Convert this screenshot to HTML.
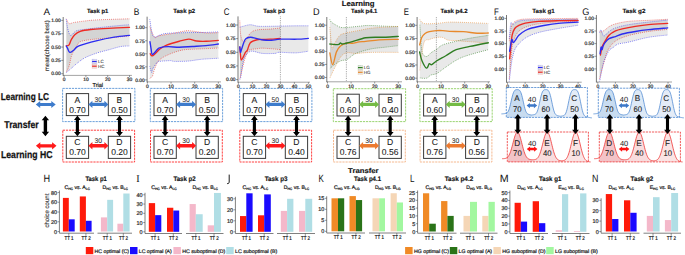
<!DOCTYPE html>
<html><head><meta charset="utf-8"><title>Figure</title>
<style>
html,body{margin:0;padding:0;background:#fff;}
body{width:685px;height:255px;overflow:hidden;}
svg{display:block;font-family:"Liberation Sans", sans-serif;text-rendering:geometricPrecision;}
</style></head>
<body>
<svg width="685" height="255" viewBox="0 0 685 255">
<rect width="685" height="255" fill="#fff"/>
<path d="M66.28,18.80 C66.75,19.60 67.88,22.98 69.11,23.60 C70.35,24.22 70.97,22.98 73.69,22.53 C76.42,22.09 81.54,21.38 85.46,20.93 C89.39,20.49 89.90,20.22 97.24,19.87 C104.58,19.51 124.12,18.98 129.50,18.80 L129.50,35.86 C125.98,36.21 114.82,37.37 108.35,37.99 C101.89,38.61 95.38,38.97 90.70,39.59 C86.01,40.21 82.56,40.65 80.23,41.72 C77.91,42.79 77.83,44.47 76.74,45.98 C75.65,47.49 74.60,49.00 73.69,50.78 C72.78,52.56 72.06,54.11 71.29,56.64 C70.53,59.18 69.95,63.40 69.11,65.97 C68.28,68.55 66.75,71.08 66.28,72.10 Z" fill="#000" fill-opacity="0.085"/>
<path d="M66.28,19.33 C66.50,20.76 67.01,25.29 67.59,27.86 C68.17,30.44 69.04,33.64 69.77,34.79 C70.49,35.95 71.00,35.37 71.95,34.79 C72.89,34.21 74.06,32.13 75.44,31.33 C76.82,30.53 76.60,30.57 80.23,29.99 C83.87,29.42 91.57,28.53 97.24,27.86 C102.90,27.20 108.86,26.53 114.24,26.00 C119.62,25.46 126.96,24.89 129.50,24.66 L129.50,45.98 C128.05,46.07 124.20,45.90 120.78,46.52 C117.36,47.14 112.93,48.65 109.01,49.72 C105.08,50.78 101.23,51.58 97.24,52.91 C93.24,54.25 88.44,55.93 85.03,57.71 C81.61,59.49 79.03,61.80 76.74,63.57 C74.45,65.35 73.04,66.86 71.29,68.37 C69.55,69.88 67.12,71.92 66.28,72.63 Z" fill="#000" fill-opacity="0.085"/>
<path d="M66.28,18.80 C66.75,19.60 67.88,22.98 69.11,23.60 C70.35,24.22 70.97,22.98 73.69,22.53 C76.42,22.09 81.54,21.38 85.46,20.93 C89.39,20.49 89.90,20.22 97.24,19.87 C104.58,19.51 124.12,18.98 129.50,18.80" fill="none" stroke="#ee2a24" stroke-width="0.7" stroke-dasharray="0.9 1.1" stroke-opacity="0.85"/>
<path d="M66.28,72.10 C66.75,71.08 68.28,68.55 69.11,65.97 C69.95,63.40 70.53,59.18 71.29,56.64 C72.06,54.11 72.78,52.56 73.69,50.78 C74.60,49.00 75.65,47.49 76.74,45.98 C77.83,44.47 77.91,42.79 80.23,41.72 C82.56,40.65 86.01,40.21 90.70,39.59 C95.38,38.97 101.89,38.61 108.35,37.99 C114.82,37.37 125.98,36.21 129.50,35.86" fill="none" stroke="#ee2a24" stroke-width="0.7" stroke-dasharray="0.9 1.1" stroke-opacity="0.85"/>
<path d="M66.28,19.33 C66.50,20.76 67.01,25.29 67.59,27.86 C68.17,30.44 69.04,33.64 69.77,34.79 C70.49,35.95 71.00,35.37 71.95,34.79 C72.89,34.21 74.06,32.13 75.44,31.33 C76.82,30.53 76.60,30.57 80.23,29.99 C83.87,29.42 91.57,28.53 97.24,27.86 C102.90,27.20 108.86,26.53 114.24,26.00 C119.62,25.46 126.96,24.89 129.50,24.66" fill="none" stroke="#2c2cf0" stroke-width="0.7" stroke-dasharray="0.9 1.1" stroke-opacity="0.85"/>
<path d="M66.28,72.63 C67.12,71.92 69.55,69.88 71.29,68.37 C73.04,66.86 74.45,65.35 76.74,63.57 C79.03,61.80 81.61,59.49 85.03,57.71 C88.44,55.93 93.24,54.25 97.24,52.91 C101.23,51.58 105.08,50.78 109.01,49.72 C112.93,48.65 117.36,47.14 120.78,46.52 C124.20,45.90 128.05,46.07 129.50,45.98" fill="none" stroke="#2c2cf0" stroke-width="0.7" stroke-dasharray="0.9 1.1" stroke-opacity="0.85"/>
<path d="M66.28,45.98 C66.75,45.81 68.28,45.98 69.11,44.92 C69.95,43.85 70.35,41.28 71.29,39.59 C72.24,37.90 73.29,36.17 74.78,34.79 C76.27,33.41 77.58,32.21 80.23,31.33 C82.88,30.44 86.01,29.95 90.70,29.46 C95.38,28.97 101.89,28.75 108.35,28.40 C114.82,28.04 125.98,27.51 129.50,27.33" fill="none" stroke="#ee2a24" stroke-width="1.35" stroke-linejoin="round" stroke-linecap="round"/>
<path d="M66.28,45.98 C66.50,46.38 67.01,47.32 67.59,48.38 C68.17,49.45 68.75,52.07 69.77,52.38 C70.79,52.69 72.17,51.31 73.69,50.25 C75.22,49.18 75.00,47.58 78.92,45.98 C82.85,44.39 91.35,42.12 97.24,40.65 C103.12,39.19 108.86,38.08 114.24,37.19 C119.62,36.30 126.96,35.63 129.50,35.32" fill="none" stroke="#2c2cf0" stroke-width="1.35" stroke-linejoin="round" stroke-linecap="round"/>
<line x1="62.90" y1="75.40" x2="131.90" y2="75.40" stroke="#9a9a9a" stroke-width="0.9"/>
<line x1="63.20" y1="17.00" x2="63.20" y2="75.80" stroke="#555" stroke-width="0.8"/>
<line x1="61.20" y1="73.70" x2="63.20" y2="73.70" stroke="#444" stroke-width="0.55"/>
<text x="60.80" y="75.45" font-size="4.9" text-anchor="end" fill="#333" stroke="#333" stroke-width="0.22">0.00</text>
<line x1="61.20" y1="60.38" x2="63.20" y2="60.38" stroke="#444" stroke-width="0.55"/>
<text x="60.80" y="62.12" font-size="4.9" text-anchor="end" fill="#333" stroke="#333" stroke-width="0.22">0.25</text>
<line x1="61.20" y1="47.05" x2="63.20" y2="47.05" stroke="#444" stroke-width="0.55"/>
<text x="60.80" y="48.80" font-size="4.9" text-anchor="end" fill="#333" stroke="#333" stroke-width="0.22">0.50</text>
<line x1="61.20" y1="33.73" x2="63.20" y2="33.73" stroke="#444" stroke-width="0.55"/>
<text x="60.80" y="35.48" font-size="4.9" text-anchor="end" fill="#333" stroke="#333" stroke-width="0.22">0.75</text>
<line x1="61.20" y1="20.40" x2="63.20" y2="20.40" stroke="#444" stroke-width="0.55"/>
<text x="60.80" y="22.15" font-size="4.9" text-anchor="end" fill="#333" stroke="#333" stroke-width="0.22">1.00</text>
<line x1="64.10" y1="75.40" x2="64.10" y2="77.10" stroke="#444" stroke-width="0.55"/>
<text x="64.10" y="81.40" font-size="4.9" text-anchor="middle" fill="#333" stroke="#333" stroke-width="0.22">0</text>
<line x1="85.90" y1="75.40" x2="85.90" y2="77.10" stroke="#444" stroke-width="0.55"/>
<text x="85.90" y="81.40" font-size="4.9" text-anchor="middle" fill="#333" stroke="#333" stroke-width="0.22">10</text>
<line x1="107.70" y1="75.40" x2="107.70" y2="77.10" stroke="#444" stroke-width="0.55"/>
<text x="107.70" y="81.40" font-size="4.9" text-anchor="middle" fill="#333" stroke="#333" stroke-width="0.22">20</text>
<line x1="129.50" y1="75.40" x2="129.50" y2="77.10" stroke="#444" stroke-width="0.55"/>
<text x="129.50" y="81.40" font-size="4.9" text-anchor="middle" fill="#333" stroke="#333" stroke-width="0.22">30</text>
<rect x="92.10" y="59.40" width="4.6" height="4.2" fill="#e6e6e6" stroke="#2c2cf0" stroke-width="0.4" stroke-dasharray="0.6 0.6" stroke-opacity="0.8"/>
<line x1="92.10" y1="61.50" x2="96.70" y2="61.50" stroke="#2c2cf0" stroke-width="1.2"/>
<text x="97.90" y="63.20" font-size="4.5" text-anchor="start" fill="#333" stroke="#333" stroke-width="0.06">LC</text>
<rect x="92.10" y="64.10" width="4.6" height="4.2" fill="#e6e6e6" stroke="#ee2a24" stroke-width="0.4" stroke-dasharray="0.6 0.6" stroke-opacity="0.8"/>
<line x1="92.10" y1="66.20" x2="96.70" y2="66.20" stroke="#ee2a24" stroke-width="1.2"/>
<text x="97.90" y="67.90" font-size="4.5" text-anchor="start" fill="#333" stroke="#333" stroke-width="0.06">HC</text>
<text x="92.50" y="87.10" font-size="5.8" text-anchor="start" fill="#222" stroke="#222" stroke-width="0.22" textLength="10.6" lengthAdjust="spacingAndGlyphs">Trial</text>
<text x="49.00" y="45.80" font-size="6.2" text-anchor="middle" fill="#333" stroke="#333" stroke-width="0.12" textLength="50.8" lengthAdjust="spacingAndGlyphs" transform="rotate(-90 48.9 45.8)">mean(choose best)</text>
<path d="M149.77,26.66 C150.55,28.40 152.92,35.57 154.50,37.10 C156.07,38.62 156.19,36.40 159.22,35.79 C162.26,35.18 168.25,34.27 172.71,33.44 C177.16,32.62 182.68,31.22 185.95,30.83 C189.22,30.44 188.98,30.75 192.34,31.09 C195.69,31.44 201.72,32.66 206.05,32.92 C210.39,33.18 216.30,32.70 218.35,32.66 L218.35,48.06 C214.61,48.23 201.95,48.75 195.88,49.10 C189.81,49.45 186.58,49.19 181.93,50.15 C177.28,51.10 171.84,53.10 167.98,54.84 C164.11,56.58 161.00,58.15 158.75,60.59 C156.51,63.02 155.56,66.85 154.50,69.46 C153.43,72.07 153.15,74.77 152.37,76.25 C151.58,77.73 150.20,77.99 149.77,78.33 Z" fill="#000" fill-opacity="0.085"/>
<path d="M149.77,19.35 C150.16,21.70 151.30,30.48 152.13,33.44 C152.96,36.40 153.51,36.79 154.73,37.10 C155.95,37.40 157.57,35.88 159.46,35.27 C161.35,34.66 161.67,33.88 166.08,33.44 C170.50,33.01 179.29,32.83 185.95,32.66 C192.61,32.48 200.65,32.53 206.05,32.40 C211.45,32.27 216.30,31.96 218.35,31.88 L218.35,58.24 C215.59,58.41 206.92,58.80 201.80,59.28 C196.67,59.76 192.34,60.76 187.61,61.11 C182.88,61.46 176.13,61.46 173.42,61.37 C170.70,61.28 173.61,60.59 171.29,60.59 C168.96,60.59 161.79,61.11 159.46,61.37 C157.14,61.63 158.44,60.98 157.33,62.15 C156.23,63.33 153.79,66.68 152.84,68.42 C151.89,70.16 152.17,72.94 151.66,72.59 C151.14,72.24 150.08,67.37 149.77,66.33 Z" fill="#000" fill-opacity="0.085"/>
<path d="M149.77,26.66 C150.55,28.40 152.92,35.57 154.50,37.10 C156.07,38.62 156.19,36.40 159.22,35.79 C162.26,35.18 168.25,34.27 172.71,33.44 C177.16,32.62 182.68,31.22 185.95,30.83 C189.22,30.44 188.98,30.75 192.34,31.09 C195.69,31.44 201.72,32.66 206.05,32.92 C210.39,33.18 216.30,32.70 218.35,32.66" fill="none" stroke="#ee2a24" stroke-width="0.7" stroke-dasharray="0.9 1.1" stroke-opacity="0.85"/>
<path d="M149.77,78.33 C150.20,77.99 151.58,77.73 152.37,76.25 C153.15,74.77 153.43,72.07 154.50,69.46 C155.56,66.85 156.51,63.02 158.75,60.59 C161.00,58.15 164.11,56.58 167.98,54.84 C171.84,53.10 177.28,51.10 181.93,50.15 C186.58,49.19 189.81,49.45 195.88,49.10 C201.95,48.75 214.61,48.23 218.35,48.06" fill="none" stroke="#ee2a24" stroke-width="0.7" stroke-dasharray="0.9 1.1" stroke-opacity="0.85"/>
<path d="M149.77,19.35 C150.16,21.70 151.30,30.48 152.13,33.44 C152.96,36.40 153.51,36.79 154.73,37.10 C155.95,37.40 157.57,35.88 159.46,35.27 C161.35,34.66 161.67,33.88 166.08,33.44 C170.50,33.01 179.29,32.83 185.95,32.66 C192.61,32.48 200.65,32.53 206.05,32.40 C211.45,32.27 216.30,31.96 218.35,31.88" fill="none" stroke="#2c2cf0" stroke-width="0.7" stroke-dasharray="0.9 1.1" stroke-opacity="0.85"/>
<path d="M149.77,66.33 C150.08,67.37 151.14,72.24 151.66,72.59 C152.17,72.94 151.89,70.16 152.84,68.42 C153.79,66.68 156.23,63.33 157.33,62.15 C158.44,60.98 157.14,61.63 159.46,61.37 C161.79,61.11 168.96,60.59 171.29,60.59 C173.61,60.59 170.70,61.28 173.42,61.37 C176.13,61.46 182.88,61.46 187.61,61.11 C192.34,60.76 196.67,59.76 201.80,59.28 C206.92,58.80 215.59,58.41 218.35,58.24" fill="none" stroke="#2c2cf0" stroke-width="0.7" stroke-dasharray="0.9 1.1" stroke-opacity="0.85"/>
<path d="M150.24,53.80 C150.59,54.15 151.18,56.28 152.37,55.89 C153.55,55.50 156.15,52.54 157.33,51.45 C158.52,50.36 158.00,50.36 159.46,49.36 C160.92,48.36 162.77,46.80 166.08,45.45 C169.39,44.10 175.54,42.32 179.33,41.27 C183.11,40.23 185.91,39.23 188.79,39.18 C191.66,39.14 193.71,40.66 196.59,41.01 C199.47,41.36 202.43,41.38 206.05,41.27 C209.68,41.17 216.30,40.53 218.35,40.38" fill="none" stroke="#ee2a24" stroke-width="1.35" stroke-linejoin="round" stroke-linecap="round"/>
<path d="M150.00,41.79 C150.20,43.06 150.79,47.28 151.18,49.36 C151.58,51.45 151.34,54.28 152.37,54.32 C153.39,54.37 156.15,50.71 157.33,49.62 C158.52,48.54 157.65,48.28 159.46,47.80 C161.27,47.31 164.90,46.79 168.21,46.70 C171.52,46.61 175.31,47.31 179.33,47.28 C183.35,47.24 187.88,46.77 192.34,46.49 C196.79,46.21 201.72,46.02 206.05,45.60 C210.39,45.19 216.30,44.26 218.35,43.99" fill="none" stroke="#2c2cf0" stroke-width="1.35" stroke-linejoin="round" stroke-linecap="round"/>
<line x1="146.80" y1="81.90" x2="221.00" y2="81.90" stroke="#9a9a9a" stroke-width="0.9"/>
<line x1="147.10" y1="16.70" x2="147.10" y2="82.30" stroke="#555" stroke-width="0.8"/>
<line x1="145.10" y1="79.90" x2="147.10" y2="79.90" stroke="#444" stroke-width="0.55"/>
<text x="144.70" y="81.65" font-size="4.9" text-anchor="end" fill="#333" stroke="#333" stroke-width="0.22">0.00</text>
<line x1="145.10" y1="66.85" x2="147.10" y2="66.85" stroke="#444" stroke-width="0.55"/>
<text x="144.70" y="68.60" font-size="4.9" text-anchor="end" fill="#333" stroke="#333" stroke-width="0.22">0.25</text>
<line x1="145.10" y1="53.80" x2="147.10" y2="53.80" stroke="#444" stroke-width="0.55"/>
<text x="144.70" y="55.55" font-size="4.9" text-anchor="end" fill="#333" stroke="#333" stroke-width="0.22">0.50</text>
<line x1="145.10" y1="40.75" x2="147.10" y2="40.75" stroke="#444" stroke-width="0.55"/>
<text x="144.70" y="42.50" font-size="4.9" text-anchor="end" fill="#333" stroke="#333" stroke-width="0.22">0.75</text>
<line x1="145.10" y1="27.70" x2="147.10" y2="27.70" stroke="#444" stroke-width="0.55"/>
<text x="144.70" y="29.45" font-size="4.9" text-anchor="end" fill="#333" stroke="#333" stroke-width="0.22">1.00</text>
<line x1="147.40" y1="81.90" x2="147.40" y2="83.60" stroke="#444" stroke-width="0.55"/>
<text x="147.40" y="87.90" font-size="4.9" text-anchor="middle" fill="#333" stroke="#333" stroke-width="0.22">0</text>
<line x1="171.05" y1="81.90" x2="171.05" y2="83.60" stroke="#444" stroke-width="0.55"/>
<text x="171.05" y="87.90" font-size="4.9" text-anchor="middle" fill="#333" stroke="#333" stroke-width="0.22">10</text>
<line x1="194.70" y1="81.90" x2="194.70" y2="83.60" stroke="#444" stroke-width="0.55"/>
<text x="194.70" y="87.90" font-size="4.9" text-anchor="middle" fill="#333" stroke="#333" stroke-width="0.22">20</text>
<line x1="218.35" y1="81.90" x2="218.35" y2="83.60" stroke="#444" stroke-width="0.55"/>
<text x="218.35" y="87.90" font-size="4.9" text-anchor="middle" fill="#333" stroke="#333" stroke-width="0.22">30</text>
<path d="M239.80,20.63 C239.99,23.18 240.14,32.28 240.92,35.92 C241.70,39.56 242.93,42.93 244.49,42.47 C246.05,42.02 248.21,35.28 250.30,33.19 C252.39,31.10 253.68,30.60 257.02,29.91 C260.36,29.23 266.42,29.41 270.32,29.09 C274.22,28.78 278.72,28.18 280.40,28.00 L280.40,49.57 C277.60,49.34 267.50,48.34 263.60,48.20 C259.70,48.07 259.42,48.43 257.02,48.75 C254.62,49.07 250.98,49.07 249.18,50.12 C247.38,51.16 247.03,53.30 246.24,55.03 C245.45,56.76 245.10,58.12 244.42,60.49 C243.74,62.86 242.83,66.59 242.18,69.23 C241.53,71.86 240.90,74.78 240.50,76.32 C240.10,77.87 239.92,78.14 239.80,78.51 Z" fill="#000" fill-opacity="0.085"/>
<path d="M239.80,27.18 C240.45,27.00 241.97,26.50 243.72,26.09 C245.47,25.68 248.08,24.73 250.30,24.73 C252.52,24.73 254.80,25.82 257.02,26.09 C259.24,26.36 259.70,26.36 263.60,26.36 C267.50,26.36 274.82,26.18 280.40,26.09 C285.98,26.00 292.39,25.86 297.06,25.82 C301.73,25.77 306.51,25.82 308.40,25.82 L308.40,51.21 C306.30,51.48 300.63,52.66 295.80,52.85 C290.97,53.03 282.92,52.21 279.42,52.30 C275.92,52.39 277.67,53.21 274.80,53.39 C271.93,53.57 266.17,53.76 262.20,53.39 C258.23,53.03 253.89,50.66 251.00,51.21 C248.11,51.75 246.19,54.67 244.84,56.67 C243.49,58.67 243.44,60.67 242.88,63.22 C242.32,65.77 241.88,69.41 241.48,71.96 C241.08,74.50 240.78,77.23 240.50,78.51 C240.22,79.78 239.92,79.42 239.80,79.60 Z" fill="#000" fill-opacity="0.085"/>
<path d="M239.80,20.63 C239.99,23.18 240.14,32.28 240.92,35.92 C241.70,39.56 242.93,42.93 244.49,42.47 C246.05,42.02 248.21,35.28 250.30,33.19 C252.39,31.10 253.68,30.60 257.02,29.91 C260.36,29.23 266.42,29.41 270.32,29.09 C274.22,28.78 278.72,28.18 280.40,28.00" fill="none" stroke="#ee2a24" stroke-width="0.7" stroke-dasharray="0.9 1.1" stroke-opacity="0.85"/>
<path d="M239.80,78.51 C239.92,78.14 240.10,77.87 240.50,76.32 C240.90,74.78 241.53,71.86 242.18,69.23 C242.83,66.59 243.74,62.86 244.42,60.49 C245.10,58.12 245.45,56.76 246.24,55.03 C247.03,53.30 247.38,51.16 249.18,50.12 C250.98,49.07 254.62,49.07 257.02,48.75 C259.42,48.43 259.70,48.07 263.60,48.20 C267.50,48.34 277.60,49.34 280.40,49.57" fill="none" stroke="#ee2a24" stroke-width="0.7" stroke-dasharray="0.9 1.1" stroke-opacity="0.85"/>
<path d="M239.80,27.18 C240.45,27.00 241.97,26.50 243.72,26.09 C245.47,25.68 248.08,24.73 250.30,24.73 C252.52,24.73 254.80,25.82 257.02,26.09 C259.24,26.36 259.70,26.36 263.60,26.36 C267.50,26.36 274.82,26.18 280.40,26.09 C285.98,26.00 292.39,25.86 297.06,25.82 C301.73,25.77 306.51,25.82 308.40,25.82" fill="none" stroke="#2c2cf0" stroke-width="0.7" stroke-dasharray="0.9 1.1" stroke-opacity="0.85"/>
<path d="M239.80,79.60 C239.92,79.42 240.22,79.78 240.50,78.51 C240.78,77.23 241.08,74.50 241.48,71.96 C241.88,69.41 242.32,65.77 242.88,63.22 C243.44,60.67 243.49,58.67 244.84,56.67 C246.19,54.67 248.11,51.75 251.00,51.21 C253.89,50.66 258.23,53.03 262.20,53.39 C266.17,53.76 271.93,53.57 274.80,53.39 C277.67,53.21 275.92,52.39 279.42,52.30 C282.92,52.21 290.97,53.03 295.80,52.85 C300.63,52.66 306.30,51.48 308.40,51.21" fill="none" stroke="#2c2cf0" stroke-width="0.7" stroke-dasharray="0.9 1.1" stroke-opacity="0.85"/>
<line x1="280.40" y1="16.40" x2="280.40" y2="82.20" stroke="#333" stroke-width="0.5" stroke-dasharray="0.8 1"/>
<path d="M239.80,46.84 C239.92,48.20 240.27,52.85 240.50,55.03 C240.73,57.21 240.71,59.67 241.20,59.94 C241.69,60.22 242.74,57.94 243.44,56.67 C244.14,55.39 244.75,53.39 245.40,52.30 C246.05,51.21 246.54,51.71 247.36,50.12 C248.18,48.52 248.69,44.47 250.30,42.74 C251.91,41.02 254.80,40.29 257.02,39.74 C259.24,39.20 261.38,39.56 263.60,39.47 C265.82,39.38 267.52,39.38 270.32,39.20 C273.12,39.01 278.72,38.51 280.40,38.38" fill="none" stroke="#ee2a24" stroke-width="1.35" stroke-linejoin="round" stroke-linecap="round"/>
<path d="M239.80,46.84 C239.91,47.75 240.15,51.84 240.43,52.30 C240.71,52.75 240.93,51.16 241.48,49.57 C242.03,47.98 243.00,44.56 243.72,42.74 C244.44,40.92 244.72,39.56 245.82,38.65 C246.92,37.74 248.95,37.42 250.30,37.28 C251.65,37.15 251.72,37.38 253.94,37.83 C256.16,38.29 260.66,39.61 263.60,40.01 C266.54,40.42 268.78,40.42 271.58,40.29 C274.38,40.15 276.13,39.38 280.40,39.20 C284.67,39.01 292.53,39.33 297.20,39.20 C301.87,39.06 306.53,38.51 308.40,38.38" fill="none" stroke="#2c2cf0" stroke-width="1.35" stroke-linejoin="round" stroke-linecap="round"/>
<line x1="237.70" y1="82.20" x2="310.00" y2="82.20" stroke="#9a9a9a" stroke-width="0.9"/>
<line x1="238.00" y1="16.40" x2="238.00" y2="82.60" stroke="#555" stroke-width="0.8"/>
<line x1="236.00" y1="79.60" x2="238.00" y2="79.60" stroke="#444" stroke-width="0.55"/>
<text x="235.60" y="81.35" font-size="4.9" text-anchor="end" fill="#333" stroke="#333" stroke-width="0.22">0.00</text>
<line x1="236.00" y1="65.95" x2="238.00" y2="65.95" stroke="#444" stroke-width="0.55"/>
<text x="235.60" y="67.70" font-size="4.9" text-anchor="end" fill="#333" stroke="#333" stroke-width="0.22">0.25</text>
<line x1="236.00" y1="52.30" x2="238.00" y2="52.30" stroke="#444" stroke-width="0.55"/>
<text x="235.60" y="54.05" font-size="4.9" text-anchor="end" fill="#333" stroke="#333" stroke-width="0.22">0.50</text>
<line x1="236.00" y1="38.65" x2="238.00" y2="38.65" stroke="#444" stroke-width="0.55"/>
<text x="235.60" y="40.40" font-size="4.9" text-anchor="end" fill="#333" stroke="#333" stroke-width="0.22">0.75</text>
<line x1="236.00" y1="25.00" x2="238.00" y2="25.00" stroke="#444" stroke-width="0.55"/>
<text x="235.60" y="26.75" font-size="4.9" text-anchor="end" fill="#333" stroke="#333" stroke-width="0.22">1.00</text>
<line x1="238.40" y1="82.20" x2="238.40" y2="83.90" stroke="#444" stroke-width="0.55"/>
<text x="238.40" y="88.20" font-size="4.9" text-anchor="middle" fill="#333" stroke="#333" stroke-width="0.22">0</text>
<line x1="252.40" y1="82.20" x2="252.40" y2="83.90" stroke="#444" stroke-width="0.55"/>
<text x="252.40" y="88.20" font-size="4.9" text-anchor="middle" fill="#333" stroke="#333" stroke-width="0.22">10</text>
<line x1="266.40" y1="82.20" x2="266.40" y2="83.90" stroke="#444" stroke-width="0.55"/>
<text x="266.40" y="88.20" font-size="4.9" text-anchor="middle" fill="#333" stroke="#333" stroke-width="0.22">20</text>
<line x1="280.40" y1="82.20" x2="280.40" y2="83.90" stroke="#444" stroke-width="0.55"/>
<text x="280.40" y="88.20" font-size="4.9" text-anchor="middle" fill="#333" stroke="#333" stroke-width="0.22">30</text>
<line x1="294.40" y1="82.20" x2="294.40" y2="83.90" stroke="#444" stroke-width="0.55"/>
<text x="294.40" y="88.20" font-size="4.9" text-anchor="middle" fill="#333" stroke="#333" stroke-width="0.22">40</text>
<line x1="308.40" y1="82.20" x2="308.40" y2="83.90" stroke="#444" stroke-width="0.55"/>
<text x="308.40" y="88.20" font-size="4.9" text-anchor="middle" fill="#333" stroke="#333" stroke-width="0.22">50</text>
<path d="M329.86,19.45 C330.10,19.88 330.37,21.19 331.28,22.06 C332.18,22.93 333.75,23.81 335.29,24.68 C336.82,25.55 338.71,26.81 340.48,27.29 C342.25,27.77 342.80,27.73 345.91,27.55 C349.02,27.38 355.35,26.59 359.12,26.25 C362.90,25.90 364.12,25.46 368.56,25.46 C373.01,25.46 380.84,26.07 385.79,26.25 C390.75,26.42 396.22,26.46 398.30,26.51 L398.30,45.60 C396.18,45.86 390.16,46.60 385.56,47.17 C380.95,47.73 375.64,47.95 370.69,49.00 C365.73,50.04 359.75,51.70 355.82,53.44 C351.89,55.19 349.57,58.24 347.09,59.46 C344.61,60.68 343.08,59.89 340.95,60.76 C338.83,61.64 336.19,63.38 334.34,64.69 C332.50,65.99 330.61,67.96 329.86,68.61 Z" fill="#000" fill-opacity="0.085"/>
<path d="M329.86,27.29 C330.21,30.78 331.32,45.25 331.98,48.21 C332.65,51.18 332.65,47.12 333.87,45.07 C335.09,43.03 337.29,37.93 339.30,35.92 C341.31,33.92 342.60,33.96 345.91,33.05 C349.21,32.13 354.72,31.26 359.12,30.43 C363.53,29.60 365.81,28.74 372.34,28.08 C378.87,27.41 393.97,26.73 398.30,26.46 L398.30,52.40 C393.70,52.40 377.77,52.22 370.69,52.40 C363.61,52.57 359.75,53.40 355.82,53.44 C351.89,53.49 349.57,52.13 347.09,52.66 C344.61,53.18 343.08,53.92 340.95,56.58 C338.83,59.24 336.19,65.04 334.34,68.61 C332.50,72.18 330.61,76.45 329.86,78.02 Z" fill="#000" fill-opacity="0.085"/>
<path d="M329.86,19.45 C330.10,19.88 330.37,21.19 331.28,22.06 C332.18,22.93 333.75,23.81 335.29,24.68 C336.82,25.55 338.71,26.81 340.48,27.29 C342.25,27.77 342.80,27.73 345.91,27.55 C349.02,27.38 355.35,26.59 359.12,26.25 C362.90,25.90 364.12,25.46 368.56,25.46 C373.01,25.46 380.84,26.07 385.79,26.25 C390.75,26.42 396.22,26.46 398.30,26.51" fill="none" stroke="#2e7d22" stroke-width="0.7" stroke-dasharray="0.9 1.1" stroke-opacity="0.85"/>
<path d="M329.86,68.61 C330.61,67.96 332.50,65.99 334.34,64.69 C336.19,63.38 338.83,61.64 340.95,60.76 C343.08,59.89 344.61,60.68 347.09,59.46 C349.57,58.24 351.89,55.19 355.82,53.44 C359.75,51.70 365.73,50.04 370.69,49.00 C375.64,47.95 380.95,47.73 385.56,47.17 C390.16,46.60 396.18,45.86 398.30,45.60" fill="none" stroke="#2e7d22" stroke-width="0.7" stroke-dasharray="0.9 1.1" stroke-opacity="0.85"/>
<path d="M329.86,27.29 C330.21,30.78 331.32,45.25 331.98,48.21 C332.65,51.18 332.65,47.12 333.87,45.07 C335.09,43.03 337.29,37.93 339.30,35.92 C341.31,33.92 342.60,33.96 345.91,33.05 C349.21,32.13 354.72,31.26 359.12,30.43 C363.53,29.60 365.81,28.74 372.34,28.08 C378.87,27.41 393.97,26.73 398.30,26.46" fill="none" stroke="#e8892c" stroke-width="0.7" stroke-dasharray="0.9 1.1" stroke-opacity="0.85"/>
<path d="M329.86,78.02 C330.61,76.45 332.50,72.18 334.34,68.61 C336.19,65.04 338.83,59.24 340.95,56.58 C343.08,53.92 344.61,53.18 347.09,52.66 C349.57,52.13 351.89,53.49 355.82,53.44 C359.75,53.40 363.61,52.57 370.69,52.40 C377.77,52.22 393.70,52.40 398.30,52.40" fill="none" stroke="#e8892c" stroke-width="0.7" stroke-dasharray="0.9 1.1" stroke-opacity="0.85"/>
<line x1="346.38" y1="17.00" x2="346.38" y2="81.80" stroke="#333" stroke-width="0.5" stroke-dasharray="0.8 1"/>
<path d="M329.86,52.92 C330.33,54.88 331.59,64.86 332.69,64.69 C333.79,64.51 335.17,54.97 336.47,51.87 C337.77,48.78 338.91,47.56 340.48,46.12 C342.05,44.68 343.94,43.72 345.91,43.24 C347.87,42.76 350.08,43.46 352.28,43.24 C354.48,43.03 356.88,42.24 359.12,41.94 C361.37,41.63 362.39,41.76 365.73,41.41 C369.08,41.06 373.76,40.19 379.18,39.84 C384.61,39.50 395.11,39.41 398.30,39.32" fill="none" stroke="#e8892c" stroke-width="1.35" stroke-linejoin="round" stroke-linecap="round"/>
<path d="M329.86,44.03 C330.76,44.12 333.79,44.51 335.29,44.55 C336.78,44.59 337.96,44.55 338.83,44.29 C339.69,44.03 339.93,43.03 340.48,42.98 C341.03,42.94 341.23,43.98 342.13,44.03 C343.04,44.07 344.22,43.64 345.91,43.24 C347.60,42.85 348.98,42.59 352.28,41.67 C355.58,40.76 361.25,38.49 365.73,37.75 C370.22,37.01 375.84,37.32 379.18,37.23 C382.53,37.14 382.61,37.36 385.79,37.23 C388.98,37.10 396.22,36.58 398.30,36.44" fill="none" stroke="#2e7d22" stroke-width="1.35" stroke-linejoin="round" stroke-linecap="round"/>
<line x1="326.50" y1="81.80" x2="402.00" y2="81.80" stroke="#9a9a9a" stroke-width="0.9"/>
<line x1="326.80" y1="17.00" x2="326.80" y2="82.20" stroke="#555" stroke-width="0.8"/>
<line x1="324.80" y1="77.50" x2="326.80" y2="77.50" stroke="#444" stroke-width="0.55"/>
<text x="324.40" y="79.25" font-size="4.9" text-anchor="end" fill="#333" stroke="#333" stroke-width="0.22">0.00</text>
<line x1="324.80" y1="64.42" x2="326.80" y2="64.42" stroke="#444" stroke-width="0.55"/>
<text x="324.40" y="66.17" font-size="4.9" text-anchor="end" fill="#333" stroke="#333" stroke-width="0.22">0.25</text>
<line x1="324.80" y1="51.35" x2="326.80" y2="51.35" stroke="#444" stroke-width="0.55"/>
<text x="324.40" y="53.10" font-size="4.9" text-anchor="end" fill="#333" stroke="#333" stroke-width="0.22">0.50</text>
<line x1="324.80" y1="38.28" x2="326.80" y2="38.28" stroke="#444" stroke-width="0.55"/>
<text x="324.40" y="40.03" font-size="4.9" text-anchor="end" fill="#333" stroke="#333" stroke-width="0.22">0.75</text>
<line x1="324.80" y1="25.20" x2="326.80" y2="25.20" stroke="#444" stroke-width="0.55"/>
<text x="324.40" y="26.95" font-size="4.9" text-anchor="end" fill="#333" stroke="#333" stroke-width="0.22">1.00</text>
<line x1="327.50" y1="81.80" x2="327.50" y2="83.50" stroke="#444" stroke-width="0.55"/>
<text x="327.50" y="87.80" font-size="4.9" text-anchor="middle" fill="#333" stroke="#333" stroke-width="0.22">0</text>
<line x1="351.10" y1="81.80" x2="351.10" y2="83.50" stroke="#444" stroke-width="0.55"/>
<text x="351.10" y="87.80" font-size="4.9" text-anchor="middle" fill="#333" stroke="#333" stroke-width="0.22">10</text>
<line x1="374.70" y1="81.80" x2="374.70" y2="83.50" stroke="#444" stroke-width="0.55"/>
<text x="374.70" y="87.80" font-size="4.9" text-anchor="middle" fill="#333" stroke="#333" stroke-width="0.22">20</text>
<line x1="398.30" y1="81.80" x2="398.30" y2="83.50" stroke="#444" stroke-width="0.55"/>
<text x="398.30" y="87.80" font-size="4.9" text-anchor="middle" fill="#333" stroke="#333" stroke-width="0.22">30</text>
<rect x="358.00" y="65.50" width="4.6" height="4.2" fill="#e6e6e6" stroke="#2e7d22" stroke-width="0.4" stroke-dasharray="0.6 0.6" stroke-opacity="0.8"/>
<line x1="358.00" y1="67.60" x2="362.60" y2="67.60" stroke="#2e7d22" stroke-width="1.2"/>
<text x="363.80" y="69.30" font-size="4.5" text-anchor="start" fill="#333" stroke="#333" stroke-width="0.06">LG</text>
<rect x="358.00" y="70.20" width="4.6" height="4.2" fill="#e6e6e6" stroke="#e8892c" stroke-width="0.4" stroke-dasharray="0.6 0.6" stroke-opacity="0.8"/>
<line x1="358.00" y1="72.30" x2="362.60" y2="72.30" stroke="#e8892c" stroke-width="1.2"/>
<text x="363.80" y="74.00" font-size="4.5" text-anchor="start" fill="#333" stroke="#333" stroke-width="0.06">HG</text>
<path d="M419.86,19.48 C420.53,20.14 421.12,22.79 423.87,23.45 C426.63,24.11 432.09,23.67 436.38,23.45 C440.67,23.23 444.01,22.26 449.60,22.13 C455.18,21.99 463.44,22.43 469.89,22.66 C476.34,22.88 485.23,23.32 488.30,23.45 L488.30,43.02 C485.23,42.80 475.20,42.10 469.89,41.70 C464.58,41.30 460.10,40.91 456.44,40.64 C452.78,40.38 450.23,40.64 447.94,40.11 C445.66,39.58 444.68,37.91 442.75,37.47 C440.82,37.03 438.62,37.11 436.38,37.47 C434.14,37.82 431.38,38.66 429.30,39.58 C427.22,40.51 425.45,37.91 423.87,43.02 C422.30,48.14 420.53,65.72 419.86,70.27 Z" fill="#000" fill-opacity="0.085"/>
<path d="M419.86,24.77 C420.21,29.18 420.88,45.93 421.98,51.22 C423.09,56.51 424.97,56.25 426.47,56.51 C427.96,56.78 429.22,54.04 430.95,52.81 C432.68,51.57 434.89,50.43 436.85,49.11 C438.82,47.78 439.49,46.20 442.75,44.87 C446.02,43.55 451.92,42.27 456.44,41.17 C460.96,40.07 464.58,39.23 469.89,38.26 C475.20,37.29 485.23,35.84 488.30,35.35 L488.30,49.63 C484.68,50.65 471.94,53.95 466.59,55.72 C461.24,57.48 459.67,58.32 456.20,60.21 C452.74,62.11 449.05,64.89 445.82,67.09 C442.59,69.30 439.33,72.12 436.85,73.44 C434.37,74.76 432.68,74.23 430.95,75.03 C429.22,75.82 428.32,77.72 426.47,78.20 C424.62,78.68 420.96,77.98 419.86,77.94 Z" fill="#000" fill-opacity="0.085"/>
<path d="M419.86,24.77 C420.21,29.18 420.88,45.93 421.98,51.22 C423.09,56.51 424.97,56.25 426.47,56.51 C427.96,56.78 429.22,54.04 430.95,52.81 C432.68,51.57 434.89,50.43 436.85,49.11 C438.82,47.78 439.49,46.20 442.75,44.87 C446.02,43.55 451.92,42.27 456.44,41.17 C460.96,40.07 464.58,39.23 469.89,38.26 C475.20,37.29 485.23,35.84 488.30,35.35" fill="none" stroke="#2e7d22" stroke-width="0.7" stroke-dasharray="0.9 1.1" stroke-opacity="0.85"/>
<path d="M419.86,77.94 C420.96,77.98 424.62,78.68 426.47,78.20 C428.32,77.72 429.22,75.82 430.95,75.03 C432.68,74.23 434.37,74.76 436.85,73.44 C439.33,72.12 442.59,69.30 445.82,67.09 C449.05,64.89 452.74,62.11 456.20,60.21 C459.67,58.32 461.24,57.48 466.59,55.72 C471.94,53.95 484.68,50.65 488.30,49.63" fill="none" stroke="#2e7d22" stroke-width="0.7" stroke-dasharray="0.9 1.1" stroke-opacity="0.85"/>
<path d="M419.86,19.48 C420.53,20.14 421.12,22.79 423.87,23.45 C426.63,24.11 432.09,23.67 436.38,23.45 C440.67,23.23 444.01,22.26 449.60,22.13 C455.18,21.99 463.44,22.43 469.89,22.66 C476.34,22.88 485.23,23.32 488.30,23.45" fill="none" stroke="#e8892c" stroke-width="0.7" stroke-dasharray="0.9 1.1" stroke-opacity="0.85"/>
<path d="M419.86,70.27 C420.53,65.72 422.30,48.14 423.87,43.02 C425.45,37.91 427.22,40.51 429.30,39.58 C431.38,38.66 434.14,37.82 436.38,37.47 C438.62,37.11 440.82,37.03 442.75,37.47 C444.68,37.91 445.66,39.58 447.94,40.11 C450.23,40.64 452.78,40.38 456.44,40.64 C460.10,40.91 464.58,41.30 469.89,41.70 C475.20,42.10 485.23,42.80 488.30,43.02" fill="none" stroke="#e8892c" stroke-width="0.7" stroke-dasharray="0.9 1.1" stroke-opacity="0.85"/>
<line x1="436.38" y1="17.00" x2="436.38" y2="81.80" stroke="#333" stroke-width="0.5" stroke-dasharray="0.8 1"/>
<path d="M419.62,44.87 C419.98,43.64 420.84,39.36 421.75,37.47 C422.65,35.57 423.79,34.47 425.05,33.50 C426.31,32.53 427.41,32.13 429.30,31.65 C431.19,31.16 434.14,30.77 436.38,30.59 C438.62,30.41 440.55,30.46 442.75,30.59 C444.95,30.72 446.13,31.21 449.60,31.38 C453.06,31.56 458.92,31.34 463.52,31.65 C468.12,31.96 473.08,33.01 477.21,33.24 C481.34,33.46 486.45,33.01 488.30,32.97" fill="none" stroke="#e8892c" stroke-width="1.35" stroke-linejoin="round" stroke-linecap="round"/>
<path d="M419.62,52.01 C420.02,53.47 420.84,58.05 421.98,60.74 C423.12,63.43 425.25,67.66 426.47,68.15 C427.69,68.63 428.43,64.23 429.30,63.65 C430.17,63.08 430.40,65.20 431.66,64.71 C432.92,64.23 434.49,62.24 436.85,60.74 C439.21,59.24 442.59,57.57 445.82,55.72 C449.05,53.87 452.19,51.18 456.20,49.63 C460.22,48.09 464.54,47.61 469.89,46.46 C475.24,45.31 485.23,43.37 488.30,42.76" fill="none" stroke="#2e7d22" stroke-width="1.35" stroke-linejoin="round" stroke-linecap="round"/>
<line x1="416.80" y1="81.80" x2="490.00" y2="81.80" stroke="#9a9a9a" stroke-width="0.9"/>
<line x1="417.10" y1="17.00" x2="417.10" y2="82.20" stroke="#555" stroke-width="0.8"/>
<line x1="415.10" y1="78.20" x2="417.10" y2="78.20" stroke="#444" stroke-width="0.55"/>
<text x="414.70" y="79.95" font-size="4.9" text-anchor="end" fill="#333" stroke="#333" stroke-width="0.22">0.00</text>
<line x1="415.10" y1="64.98" x2="417.10" y2="64.98" stroke="#444" stroke-width="0.55"/>
<text x="414.70" y="66.73" font-size="4.9" text-anchor="end" fill="#333" stroke="#333" stroke-width="0.22">0.25</text>
<line x1="415.10" y1="51.75" x2="417.10" y2="51.75" stroke="#444" stroke-width="0.55"/>
<text x="414.70" y="53.50" font-size="4.9" text-anchor="end" fill="#333" stroke="#333" stroke-width="0.22">0.50</text>
<line x1="415.10" y1="38.53" x2="417.10" y2="38.53" stroke="#444" stroke-width="0.55"/>
<text x="414.70" y="40.28" font-size="4.9" text-anchor="end" fill="#333" stroke="#333" stroke-width="0.22">0.75</text>
<line x1="415.10" y1="25.30" x2="417.10" y2="25.30" stroke="#444" stroke-width="0.55"/>
<text x="414.70" y="27.05" font-size="4.9" text-anchor="end" fill="#333" stroke="#333" stroke-width="0.22">1.00</text>
<line x1="417.50" y1="81.80" x2="417.50" y2="83.50" stroke="#444" stroke-width="0.55"/>
<text x="417.50" y="87.80" font-size="4.9" text-anchor="middle" fill="#333" stroke="#333" stroke-width="0.22">0</text>
<line x1="441.10" y1="81.80" x2="441.10" y2="83.50" stroke="#444" stroke-width="0.55"/>
<text x="441.10" y="87.80" font-size="4.9" text-anchor="middle" fill="#333" stroke="#333" stroke-width="0.22">10</text>
<line x1="464.70" y1="81.80" x2="464.70" y2="83.50" stroke="#444" stroke-width="0.55"/>
<text x="464.70" y="87.80" font-size="4.9" text-anchor="middle" fill="#333" stroke="#333" stroke-width="0.22">20</text>
<line x1="488.30" y1="81.80" x2="488.30" y2="83.50" stroke="#444" stroke-width="0.55"/>
<text x="488.30" y="87.80" font-size="4.9" text-anchor="middle" fill="#333" stroke="#333" stroke-width="0.22">30</text>
<path d="M509.26,41.12 C509.56,39.02 510.44,31.45 511.03,28.50 C511.62,25.55 511.50,24.88 512.79,23.45 C514.09,22.02 515.65,20.67 518.80,19.92 C521.94,19.16 521.80,19.16 531.68,18.91 C541.56,18.65 570.36,18.48 578.10,18.40 L578.10,21.18 C573.69,21.39 559.36,21.77 551.62,22.44 C543.89,23.11 537.15,23.74 531.68,25.22 C526.21,26.69 521.94,28.21 518.80,31.28 C515.65,34.35 514.09,39.06 512.79,43.65 C511.50,48.24 511.62,52.91 511.03,58.80 C510.44,64.69 509.56,75.63 509.26,79.00 Z" fill="#000" fill-opacity="0.085"/>
<path d="M509.26,38.60 C509.53,35.99 510.27,25.30 510.85,22.95 C511.44,20.59 511.47,24.75 512.79,24.46 C514.12,24.17 515.65,21.94 518.80,21.18 C521.94,20.42 521.80,20.21 531.68,19.92 C541.56,19.62 570.36,19.49 578.10,19.41 L578.10,25.22 C574.81,25.76 564.92,27.28 558.33,28.50 C551.74,29.72 544.06,30.94 538.56,32.54 C533.06,34.14 529.06,35.65 525.33,38.10 C521.59,40.54 518.24,44.16 516.15,47.19 C514.06,50.22 513.65,53.08 512.79,56.28 C511.94,59.47 511.62,62.17 511.03,66.38 C510.44,70.58 509.56,79.00 509.26,81.53 Z" fill="#000" fill-opacity="0.085"/>
<path d="M509.26,41.12 C509.56,39.02 510.44,31.45 511.03,28.50 C511.62,25.55 511.50,24.88 512.79,23.45 C514.09,22.02 515.65,20.67 518.80,19.92 C521.94,19.16 521.80,19.16 531.68,18.91 C541.56,18.65 570.36,18.48 578.10,18.40" fill="none" stroke="#ee2a24" stroke-width="0.7" stroke-dasharray="0.9 1.1" stroke-opacity="0.85"/>
<path d="M509.26,79.00 C509.56,75.63 510.44,64.69 511.03,58.80 C511.62,52.91 511.50,48.24 512.79,43.65 C514.09,39.06 515.65,34.35 518.80,31.28 C521.94,28.21 526.21,26.69 531.68,25.22 C537.15,23.74 543.89,23.11 551.62,22.44 C559.36,21.77 573.69,21.39 578.10,21.18" fill="none" stroke="#ee2a24" stroke-width="0.7" stroke-dasharray="0.9 1.1" stroke-opacity="0.85"/>
<path d="M509.26,38.60 C509.53,35.99 510.27,25.30 510.85,22.95 C511.44,20.59 511.47,24.75 512.79,24.46 C514.12,24.17 515.65,21.94 518.80,21.18 C521.94,20.42 521.80,20.21 531.68,19.92 C541.56,19.62 570.36,19.49 578.10,19.41" fill="none" stroke="#2c2cf0" stroke-width="0.7" stroke-dasharray="0.9 1.1" stroke-opacity="0.85"/>
<path d="M509.26,81.53 C509.56,79.00 510.44,70.58 511.03,66.38 C511.62,62.17 511.94,59.47 512.79,56.28 C513.65,53.08 514.06,50.22 516.15,47.19 C518.24,44.16 521.59,40.54 525.33,38.10 C529.06,35.65 533.06,34.14 538.56,32.54 C544.06,30.94 551.74,29.72 558.33,28.50 C564.92,27.28 574.81,25.76 578.10,25.22" fill="none" stroke="#2c2cf0" stroke-width="0.7" stroke-dasharray="0.9 1.1" stroke-opacity="0.85"/>
<path d="M509.62,58.80 C509.82,56.86 510.44,51.10 510.85,47.19 C511.27,43.27 511.44,38.43 512.09,35.32 C512.74,32.20 513.62,30.14 514.74,28.50 C515.85,26.86 517.03,26.35 518.80,25.47 C520.56,24.59 522.03,23.87 525.33,23.20 C528.62,22.52 533.06,21.85 538.56,21.43 C544.06,21.01 551.74,20.84 558.33,20.67 C564.92,20.50 574.81,20.46 578.10,20.42" fill="none" stroke="#ee2a24" stroke-width="1.35" stroke-linejoin="round" stroke-linecap="round"/>
<path d="M509.62,51.23 C509.97,49.29 511.15,41.04 511.74,39.61 C512.32,38.18 512.53,42.56 513.15,42.64 C513.77,42.72 514.50,41.34 515.44,40.12 C516.38,38.89 517.15,36.92 518.80,35.32 C520.44,33.72 523.18,31.74 525.33,30.52 C527.47,29.30 528.36,28.88 531.68,28.00 C535.00,27.11 540.83,25.98 545.27,25.22 C549.71,24.46 552.86,23.96 558.33,23.45 C563.80,22.95 574.81,22.40 578.10,22.19" fill="none" stroke="#2c2cf0" stroke-width="1.35" stroke-linejoin="round" stroke-linecap="round"/>
<line x1="506.20" y1="82.20" x2="581.70" y2="82.20" stroke="#9a9a9a" stroke-width="0.9"/>
<line x1="506.50" y1="15.00" x2="506.50" y2="82.60" stroke="#555" stroke-width="0.8"/>
<line x1="504.50" y1="68.90" x2="506.50" y2="68.90" stroke="#444" stroke-width="0.55"/>
<text x="504.10" y="70.65" font-size="4.9" text-anchor="end" fill="#333" stroke="#333" stroke-width="0.22">0.00</text>
<line x1="504.50" y1="56.28" x2="506.50" y2="56.28" stroke="#444" stroke-width="0.55"/>
<text x="504.10" y="58.03" font-size="4.9" text-anchor="end" fill="#333" stroke="#333" stroke-width="0.22">0.25</text>
<line x1="504.50" y1="43.65" x2="506.50" y2="43.65" stroke="#444" stroke-width="0.55"/>
<text x="504.10" y="45.40" font-size="4.9" text-anchor="end" fill="#333" stroke="#333" stroke-width="0.22">0.50</text>
<line x1="504.50" y1="31.03" x2="506.50" y2="31.03" stroke="#444" stroke-width="0.55"/>
<text x="504.10" y="32.78" font-size="4.9" text-anchor="end" fill="#333" stroke="#333" stroke-width="0.22">0.75</text>
<line x1="504.50" y1="18.40" x2="506.50" y2="18.40" stroke="#444" stroke-width="0.55"/>
<text x="504.10" y="20.15" font-size="4.9" text-anchor="end" fill="#333" stroke="#333" stroke-width="0.22">1.00</text>
<line x1="507.50" y1="82.20" x2="507.50" y2="83.90" stroke="#444" stroke-width="0.55"/>
<text x="507.50" y="88.20" font-size="4.9" text-anchor="middle" fill="#333" stroke="#333" stroke-width="0.22">0</text>
<line x1="525.15" y1="82.20" x2="525.15" y2="83.90" stroke="#444" stroke-width="0.55"/>
<text x="525.15" y="88.20" font-size="4.9" text-anchor="middle" fill="#333" stroke="#333" stroke-width="0.22">10</text>
<line x1="542.80" y1="82.20" x2="542.80" y2="83.90" stroke="#444" stroke-width="0.55"/>
<text x="542.80" y="88.20" font-size="4.9" text-anchor="middle" fill="#333" stroke="#333" stroke-width="0.22">20</text>
<line x1="560.45" y1="82.20" x2="560.45" y2="83.90" stroke="#444" stroke-width="0.55"/>
<text x="560.45" y="88.20" font-size="4.9" text-anchor="middle" fill="#333" stroke="#333" stroke-width="0.22">30</text>
<line x1="578.10" y1="82.20" x2="578.10" y2="83.90" stroke="#444" stroke-width="0.55"/>
<text x="578.10" y="88.20" font-size="4.9" text-anchor="middle" fill="#333" stroke="#333" stroke-width="0.22">40</text>
<rect x="538.00" y="65.40" width="4.6" height="4.2" fill="#e6e6e6" stroke="#2c2cf0" stroke-width="0.4" stroke-dasharray="0.6 0.6" stroke-opacity="0.8"/>
<line x1="538.00" y1="67.50" x2="542.60" y2="67.50" stroke="#2c2cf0" stroke-width="1.2"/>
<text x="543.80" y="69.20" font-size="4.5" text-anchor="start" fill="#333" stroke="#333" stroke-width="0.06">LC</text>
<rect x="538.00" y="70.10" width="4.6" height="4.2" fill="#e6e6e6" stroke="#ee2a24" stroke-width="0.4" stroke-dasharray="0.6 0.6" stroke-opacity="0.8"/>
<line x1="538.00" y1="72.20" x2="542.60" y2="72.20" stroke="#ee2a24" stroke-width="1.2"/>
<text x="543.80" y="73.90" font-size="4.5" text-anchor="start" fill="#333" stroke="#333" stroke-width="0.06">HC</text>
<path d="M599.56,30.95 C599.82,31.12 600.23,32.13 601.14,31.96 C602.04,31.79 603.68,30.82 605.00,29.94 C606.32,29.05 607.28,27.66 609.04,26.65 C610.79,25.64 612.26,24.75 615.54,23.87 C618.81,22.98 623.20,21.93 628.71,21.34 C634.21,20.75 642.05,20.66 648.55,20.32 C655.05,19.99 664.50,19.48 667.69,19.31 L667.69,29.43 C664.50,29.77 655.05,30.44 648.55,31.46 C642.05,32.47 634.21,33.90 628.71,35.50 C623.20,37.11 619.02,38.62 615.54,41.07 C612.05,43.52 609.59,47.06 607.81,50.18 C606.02,53.30 605.70,56.92 604.82,59.79 C603.95,62.66 603.42,64.18 602.54,67.38 C601.66,70.59 600.05,77.08 599.56,79.02 Z" fill="#000" fill-opacity="0.085"/>
<path d="M599.56,32.47 C599.82,32.05 600.43,29.35 601.14,29.94 C601.84,30.53 602.45,35.76 603.77,36.01 C605.09,36.26 607.08,32.81 609.04,31.46 C611.00,30.11 612.26,29.05 615.54,27.91 C618.81,26.78 623.20,25.59 628.71,24.63 C634.21,23.66 642.05,22.85 648.55,22.09 C655.05,21.34 664.50,20.41 667.69,20.07 L667.69,35.00 C664.50,35.38 655.05,36.09 648.55,37.28 C642.05,38.46 633.80,40.94 628.71,42.08 C623.61,43.22 620.51,43.26 617.99,44.11 C615.48,44.95 615.04,46.13 613.60,47.14 C612.17,48.15 610.68,48.58 609.39,50.18 C608.10,51.78 606.93,54.39 605.88,56.76 C604.82,59.12 604.12,60.21 603.07,64.35 C602.01,68.48 600.14,78.68 599.56,81.55 Z" fill="#000" fill-opacity="0.085"/>
<path d="M599.56,30.95 C599.82,31.12 600.23,32.13 601.14,31.96 C602.04,31.79 603.68,30.82 605.00,29.94 C606.32,29.05 607.28,27.66 609.04,26.65 C610.79,25.64 612.26,24.75 615.54,23.87 C618.81,22.98 623.20,21.93 628.71,21.34 C634.21,20.75 642.05,20.66 648.55,20.32 C655.05,19.99 664.50,19.48 667.69,19.31" fill="none" stroke="#ee2a24" stroke-width="0.7" stroke-dasharray="0.9 1.1" stroke-opacity="0.85"/>
<path d="M599.56,79.02 C600.05,77.08 601.66,70.59 602.54,67.38 C603.42,64.18 603.95,62.66 604.82,59.79 C605.70,56.92 606.02,53.30 607.81,50.18 C609.59,47.06 612.05,43.52 615.54,41.07 C619.02,38.62 623.20,37.11 628.71,35.50 C634.21,33.90 642.05,32.47 648.55,31.46 C655.05,30.44 664.50,29.77 667.69,29.43" fill="none" stroke="#ee2a24" stroke-width="0.7" stroke-dasharray="0.9 1.1" stroke-opacity="0.85"/>
<path d="M599.56,32.47 C599.82,32.05 600.43,29.35 601.14,29.94 C601.84,30.53 602.45,35.76 603.77,36.01 C605.09,36.26 607.08,32.81 609.04,31.46 C611.00,30.11 612.26,29.05 615.54,27.91 C618.81,26.78 623.20,25.59 628.71,24.63 C634.21,23.66 642.05,22.85 648.55,22.09 C655.05,21.34 664.50,20.41 667.69,20.07" fill="none" stroke="#2c2cf0" stroke-width="0.7" stroke-dasharray="0.9 1.1" stroke-opacity="0.85"/>
<path d="M599.56,81.55 C600.14,78.68 602.01,68.48 603.07,64.35 C604.12,60.21 604.82,59.12 605.88,56.76 C606.93,54.39 608.10,51.78 609.39,50.18 C610.68,48.58 612.17,48.15 613.60,47.14 C615.04,46.13 615.48,44.95 617.99,44.11 C620.51,43.26 623.61,43.22 628.71,42.08 C633.80,40.94 642.05,38.46 648.55,37.28 C655.05,36.09 664.50,35.38 667.69,35.00" fill="none" stroke="#2c2cf0" stroke-width="0.7" stroke-dasharray="0.9 1.1" stroke-opacity="0.85"/>
<path d="M600.43,54.99 C600.76,53.51 601.60,48.41 602.37,46.13 C603.13,43.85 603.89,43.14 605.00,41.32 C606.11,39.51 607.28,36.98 609.04,35.25 C610.79,33.52 613.34,32.00 615.54,30.95 C617.73,29.90 618.90,29.69 622.21,28.93 C625.52,28.17 630.99,27.11 635.38,26.40 C639.77,25.68 643.16,25.13 648.55,24.63 C653.93,24.12 664.50,23.57 667.69,23.36" fill="none" stroke="#ee2a24" stroke-width="1.35" stroke-linejoin="round" stroke-linecap="round"/>
<path d="M600.08,53.72 C600.26,52.62 600.79,47.82 601.14,47.14 C601.49,46.47 601.87,49.84 602.19,49.67 C602.51,49.50 602.60,47.31 603.07,46.13 C603.54,44.95 604.00,43.85 605.00,42.59 C605.99,41.32 607.28,39.55 609.04,38.54 C610.79,37.53 613.34,37.28 615.54,36.52 C617.73,35.76 618.90,34.83 622.21,33.99 C625.52,33.14 630.99,32.17 635.38,31.46 C639.77,30.74 643.16,30.28 648.55,29.69 C653.93,29.09 664.50,28.21 667.69,27.91" fill="none" stroke="#2c2cf0" stroke-width="1.35" stroke-linejoin="round" stroke-linecap="round"/>
<line x1="596.10" y1="82.00" x2="672.00" y2="82.00" stroke="#9a9a9a" stroke-width="0.9"/>
<line x1="596.40" y1="15.00" x2="596.40" y2="82.40" stroke="#555" stroke-width="0.8"/>
<line x1="594.40" y1="68.90" x2="596.40" y2="68.90" stroke="#444" stroke-width="0.55"/>
<text x="594.00" y="70.65" font-size="4.9" text-anchor="end" fill="#333" stroke="#333" stroke-width="0.22">0.00</text>
<line x1="594.40" y1="56.25" x2="596.40" y2="56.25" stroke="#444" stroke-width="0.55"/>
<text x="594.00" y="58.00" font-size="4.9" text-anchor="end" fill="#333" stroke="#333" stroke-width="0.22">0.25</text>
<line x1="594.40" y1="43.60" x2="596.40" y2="43.60" stroke="#444" stroke-width="0.55"/>
<text x="594.00" y="45.35" font-size="4.9" text-anchor="end" fill="#333" stroke="#333" stroke-width="0.22">0.50</text>
<line x1="594.40" y1="30.95" x2="596.40" y2="30.95" stroke="#444" stroke-width="0.55"/>
<text x="594.00" y="32.70" font-size="4.9" text-anchor="end" fill="#333" stroke="#333" stroke-width="0.22">0.75</text>
<line x1="594.40" y1="18.30" x2="596.40" y2="18.30" stroke="#444" stroke-width="0.55"/>
<text x="594.00" y="20.05" font-size="4.9" text-anchor="end" fill="#333" stroke="#333" stroke-width="0.22">1.00</text>
<line x1="597.80" y1="82.00" x2="597.80" y2="83.70" stroke="#444" stroke-width="0.55"/>
<text x="597.80" y="88.00" font-size="4.9" text-anchor="middle" fill="#333" stroke="#333" stroke-width="0.22">0</text>
<line x1="615.36" y1="82.00" x2="615.36" y2="83.70" stroke="#444" stroke-width="0.55"/>
<text x="615.36" y="88.00" font-size="4.9" text-anchor="middle" fill="#333" stroke="#333" stroke-width="0.22">10</text>
<line x1="632.92" y1="82.00" x2="632.92" y2="83.70" stroke="#444" stroke-width="0.55"/>
<text x="632.92" y="88.00" font-size="4.9" text-anchor="middle" fill="#333" stroke="#333" stroke-width="0.22">20</text>
<line x1="650.48" y1="82.00" x2="650.48" y2="83.70" stroke="#444" stroke-width="0.55"/>
<text x="650.48" y="88.00" font-size="4.9" text-anchor="middle" fill="#333" stroke="#333" stroke-width="0.22">30</text>
<line x1="668.04" y1="82.00" x2="668.04" y2="83.70" stroke="#444" stroke-width="0.55"/>
<text x="668.04" y="88.00" font-size="4.9" text-anchor="middle" fill="#333" stroke="#333" stroke-width="0.22">40</text>
<text x="86.90" y="13.20" font-size="6.0" font-weight="bold" text-anchor="start" fill="#111" stroke="#111" stroke-width="0.15" textLength="21.4" lengthAdjust="spacingAndGlyphs">Task p1</text>
<text x="173.30" y="13.20" font-size="6.0" font-weight="bold" text-anchor="start" fill="#111" stroke="#111" stroke-width="0.15" textLength="21.9" lengthAdjust="spacingAndGlyphs">Task p2</text>
<text x="263.20" y="13.20" font-size="6.0" font-weight="bold" text-anchor="start" fill="#111" stroke="#111" stroke-width="0.15" textLength="21.9" lengthAdjust="spacingAndGlyphs">Task p3</text>
<text x="351.00" y="13.20" font-size="6.0" font-weight="bold" text-anchor="start" fill="#111" stroke="#111" stroke-width="0.15" textLength="26.3" lengthAdjust="spacingAndGlyphs">Task p4.1</text>
<text x="440.60" y="13.20" font-size="6.0" font-weight="bold" text-anchor="start" fill="#111" stroke="#111" stroke-width="0.15" textLength="27.0" lengthAdjust="spacingAndGlyphs">Task p4.2</text>
<text x="532.30" y="13.20" font-size="6.0" font-weight="bold" text-anchor="start" fill="#111" stroke="#111" stroke-width="0.15" textLength="22.4" lengthAdjust="spacingAndGlyphs">Task g1</text>
<text x="622.50" y="13.20" font-size="6.0" font-weight="bold" text-anchor="start" fill="#111" stroke="#111" stroke-width="0.15" textLength="22.9" lengthAdjust="spacingAndGlyphs">Task g2</text>
<text x="341.80" y="6.00" font-size="7.4" font-weight="bold" text-anchor="start" fill="#111" stroke="#111" stroke-width="0.15" textLength="32.7" lengthAdjust="spacingAndGlyphs">Learning</text>
<text x="43.60" y="14.70" font-size="9.6" text-anchor="start" fill="#111" textLength="6.6" lengthAdjust="spacingAndGlyphs">A</text>
<text x="133.80" y="14.70" font-size="9.6" text-anchor="start" fill="#111" textLength="5.6" lengthAdjust="spacingAndGlyphs">B</text>
<text x="223.80" y="14.70" font-size="9.6" text-anchor="start" fill="#111" textLength="5.7" lengthAdjust="spacingAndGlyphs">C</text>
<text x="313.10" y="14.70" font-size="9.6" text-anchor="start" fill="#111" textLength="6.6" lengthAdjust="spacingAndGlyphs">D</text>
<text x="403.80" y="14.70" font-size="9.6" text-anchor="start" fill="#111" textLength="5.2" lengthAdjust="spacingAndGlyphs">E</text>
<text x="494.10" y="14.70" font-size="9.6" text-anchor="start" fill="#111" textLength="4.8" lengthAdjust="spacingAndGlyphs">F</text>
<text x="582.20" y="14.70" font-size="9.6" text-anchor="start" fill="#111" textLength="7.1" lengthAdjust="spacingAndGlyphs">G</text>
<rect x="62.60" y="88.40" width="72.30" height="33.20" fill="none" stroke="#5b95d6" stroke-width="0.9" stroke-dasharray="2.2 0.9"/>
<rect x="62.80" y="130.20" width="71.80" height="31.80" fill="none" stroke="#ff2a2a" stroke-width="0.9" stroke-dasharray="2.2 0.9"/>
<rect x="66.30" y="93.60" width="22.30" height="22.00" fill="#fff" stroke="#3a3a3a" stroke-width="1.0"/>
<text x="77.45" y="102.50" font-size="8.6" text-anchor="middle" fill="#1a1a1a" stroke="#1a1a1a" stroke-width="0.08">A</text>
<text x="77.45" y="112.70" font-size="8.6" text-anchor="middle" fill="#1a1a1a" textLength="16.6" lengthAdjust="spacingAndGlyphs" stroke="#1a1a1a" stroke-width="0.08">0.70</text>
<rect x="108.30" y="93.60" width="22.30" height="22.00" fill="#fff" stroke="#3a3a3a" stroke-width="1.0"/>
<text x="119.45" y="102.50" font-size="8.6" text-anchor="middle" fill="#1a1a1a" stroke="#1a1a1a" stroke-width="0.08">B</text>
<text x="119.45" y="112.70" font-size="8.6" text-anchor="middle" fill="#1a1a1a" textLength="16.6" lengthAdjust="spacingAndGlyphs" stroke="#1a1a1a" stroke-width="0.08">0.50</text>
<rect x="66.30" y="136.30" width="22.30" height="22.10" fill="#fff" stroke="#3a3a3a" stroke-width="1.0"/>
<text x="77.45" y="145.20" font-size="8.6" text-anchor="middle" fill="#1a1a1a" stroke="#1a1a1a" stroke-width="0.08">C</text>
<text x="77.45" y="155.40" font-size="8.6" text-anchor="middle" fill="#1a1a1a" textLength="16.6" lengthAdjust="spacingAndGlyphs" stroke="#1a1a1a" stroke-width="0.08">0.70</text>
<rect x="108.30" y="136.30" width="22.30" height="22.10" fill="#fff" stroke="#3a3a3a" stroke-width="1.0"/>
<text x="119.45" y="145.20" font-size="8.6" text-anchor="middle" fill="#1a1a1a" stroke="#1a1a1a" stroke-width="0.08">D</text>
<text x="119.45" y="155.40" font-size="8.6" text-anchor="middle" fill="#1a1a1a" textLength="16.6" lengthAdjust="spacingAndGlyphs" stroke="#1a1a1a" stroke-width="0.08">0.20</text>
<polygon points="88.40,104.40 92.40,100.80 92.40,102.85 104.40,102.85 104.40,100.80 108.40,104.40 104.40,108.00 104.40,105.95 92.40,105.95 92.40,108.00" fill="#3e7ccc"/>
<polygon points="88.40,145.80 92.40,142.10 92.40,144.10 104.40,144.10 104.40,142.10 108.40,145.80 104.40,149.50 104.40,147.50 92.40,147.50 92.40,149.50" fill="#ff1a1a"/>
<text x="98.30" y="102.00" font-size="6.8" text-anchor="middle" fill="#1a1a1a">30</text>
<text x="98.30" y="142.90" font-size="6.8" text-anchor="middle" fill="#1a1a1a">30</text>
<polygon points="77.40,115.60 80.80,119.90 78.95,119.90 78.95,132.00 80.80,132.00 77.40,136.30 74.00,132.00 75.85,132.00 75.85,119.90 74.00,119.90" fill="#000"/>
<polygon points="119.50,115.60 122.90,119.90 121.05,119.90 121.05,132.00 122.90,132.00 119.50,136.30 116.10,132.00 117.95,132.00 117.95,119.90 116.10,119.90" fill="#000"/>
<rect x="150.30" y="88.40" width="72.30" height="33.20" fill="none" stroke="#5b95d6" stroke-width="0.9" stroke-dasharray="2.2 0.9"/>
<rect x="150.50" y="130.20" width="71.80" height="31.80" fill="none" stroke="#ff2a2a" stroke-width="0.9" stroke-dasharray="2.2 0.9"/>
<rect x="154.00" y="93.60" width="22.30" height="22.00" fill="#fff" stroke="#3a3a3a" stroke-width="1.0"/>
<text x="165.15" y="102.50" font-size="8.6" text-anchor="middle" fill="#1a1a1a" stroke="#1a1a1a" stroke-width="0.08">A</text>
<text x="165.15" y="112.70" font-size="8.6" text-anchor="middle" fill="#1a1a1a" textLength="16.6" lengthAdjust="spacingAndGlyphs" stroke="#1a1a1a" stroke-width="0.08">0.70</text>
<rect x="196.00" y="93.60" width="22.30" height="22.00" fill="#fff" stroke="#3a3a3a" stroke-width="1.0"/>
<text x="207.15" y="102.50" font-size="8.6" text-anchor="middle" fill="#1a1a1a" stroke="#1a1a1a" stroke-width="0.08">B</text>
<text x="207.15" y="112.70" font-size="8.6" text-anchor="middle" fill="#1a1a1a" textLength="16.6" lengthAdjust="spacingAndGlyphs" stroke="#1a1a1a" stroke-width="0.08">0.50</text>
<rect x="154.00" y="136.30" width="22.30" height="22.10" fill="#fff" stroke="#3a3a3a" stroke-width="1.0"/>
<text x="165.15" y="145.20" font-size="8.6" text-anchor="middle" fill="#1a1a1a" stroke="#1a1a1a" stroke-width="0.08">C</text>
<text x="165.15" y="155.40" font-size="8.6" text-anchor="middle" fill="#1a1a1a" textLength="16.6" lengthAdjust="spacingAndGlyphs" stroke="#1a1a1a" stroke-width="0.08">0.70</text>
<rect x="196.00" y="136.30" width="22.30" height="22.10" fill="#fff" stroke="#3a3a3a" stroke-width="1.0"/>
<text x="207.15" y="145.20" font-size="8.6" text-anchor="middle" fill="#1a1a1a" stroke="#1a1a1a" stroke-width="0.08">D</text>
<text x="207.15" y="155.40" font-size="8.6" text-anchor="middle" fill="#1a1a1a" textLength="16.6" lengthAdjust="spacingAndGlyphs" stroke="#1a1a1a" stroke-width="0.08">0.20</text>
<polygon points="176.10,104.40 180.10,100.80 180.10,102.85 192.10,102.85 192.10,100.80 196.10,104.40 192.10,108.00 192.10,105.95 180.10,105.95 180.10,108.00" fill="#3e7ccc"/>
<polygon points="176.10,145.80 180.10,142.10 180.10,144.10 192.10,144.10 192.10,142.10 196.10,145.80 192.10,149.50 192.10,147.50 180.10,147.50 180.10,149.50" fill="#ff1a1a"/>
<text x="186.00" y="102.00" font-size="6.8" text-anchor="middle" fill="#1a1a1a">30</text>
<text x="186.00" y="142.90" font-size="6.8" text-anchor="middle" fill="#1a1a1a">30</text>
<polygon points="165.10,115.60 168.50,119.90 166.65,119.90 166.65,132.00 168.50,132.00 165.10,136.30 161.70,132.00 163.55,132.00 163.55,119.90 161.70,119.90" fill="#000"/>
<polygon points="207.20,115.60 210.60,119.90 208.75,119.90 208.75,132.00 210.60,132.00 207.20,136.30 203.80,132.00 205.65,132.00 205.65,119.90 203.80,119.90" fill="#000"/>
<rect x="239.60" y="88.40" width="72.30" height="33.20" fill="none" stroke="#5b95d6" stroke-width="0.9" stroke-dasharray="2.2 0.9"/>
<rect x="239.80" y="130.20" width="71.80" height="31.80" fill="none" stroke="#ff2a2a" stroke-width="0.9" stroke-dasharray="2.2 0.9"/>
<rect x="243.30" y="93.60" width="22.30" height="22.00" fill="#fff" stroke="#3a3a3a" stroke-width="1.0"/>
<text x="254.45" y="102.50" font-size="8.6" text-anchor="middle" fill="#1a1a1a" stroke="#1a1a1a" stroke-width="0.08">A</text>
<text x="254.45" y="112.70" font-size="8.6" text-anchor="middle" fill="#1a1a1a" textLength="16.6" lengthAdjust="spacingAndGlyphs" stroke="#1a1a1a" stroke-width="0.08">0.70</text>
<rect x="285.30" y="93.60" width="22.30" height="22.00" fill="#fff" stroke="#3a3a3a" stroke-width="1.0"/>
<text x="296.45" y="102.50" font-size="8.6" text-anchor="middle" fill="#1a1a1a" stroke="#1a1a1a" stroke-width="0.08">B</text>
<text x="296.45" y="112.70" font-size="8.6" text-anchor="middle" fill="#1a1a1a" textLength="16.6" lengthAdjust="spacingAndGlyphs" stroke="#1a1a1a" stroke-width="0.08">0.50</text>
<rect x="243.30" y="136.30" width="22.30" height="22.10" fill="#fff" stroke="#3a3a3a" stroke-width="1.0"/>
<text x="254.45" y="145.20" font-size="8.6" text-anchor="middle" fill="#1a1a1a" stroke="#1a1a1a" stroke-width="0.08">C</text>
<text x="254.45" y="155.40" font-size="8.6" text-anchor="middle" fill="#1a1a1a" textLength="16.6" lengthAdjust="spacingAndGlyphs" stroke="#1a1a1a" stroke-width="0.08">0.70</text>
<rect x="285.30" y="136.30" width="22.30" height="22.10" fill="#fff" stroke="#3a3a3a" stroke-width="1.0"/>
<text x="296.45" y="145.20" font-size="8.6" text-anchor="middle" fill="#1a1a1a" stroke="#1a1a1a" stroke-width="0.08">D</text>
<text x="296.45" y="155.40" font-size="8.6" text-anchor="middle" fill="#1a1a1a" textLength="16.6" lengthAdjust="spacingAndGlyphs" stroke="#1a1a1a" stroke-width="0.08">0.40</text>
<polygon points="265.40,104.40 269.40,100.80 269.40,102.85 281.40,102.85 281.40,100.80 285.40,104.40 281.40,108.00 281.40,105.95 269.40,105.95 269.40,108.00" fill="#3e7ccc"/>
<polygon points="265.40,145.80 269.40,142.10 269.40,144.10 281.40,144.10 281.40,142.10 285.40,145.80 281.40,149.50 281.40,147.50 269.40,147.50 269.40,149.50" fill="#ff1a1a"/>
<text x="275.30" y="102.00" font-size="6.8" text-anchor="middle" fill="#1a1a1a">50</text>
<text x="275.30" y="142.90" font-size="6.8" text-anchor="middle" fill="#1a1a1a">30</text>
<polygon points="254.40,115.60 257.80,119.90 255.95,119.90 255.95,132.00 257.80,132.00 254.40,136.30 251.00,132.00 252.85,132.00 252.85,119.90 251.00,119.90" fill="#000"/>
<polygon points="296.50,115.60 299.90,119.90 298.05,119.90 298.05,132.00 299.90,132.00 296.50,136.30 293.10,132.00 294.95,132.00 294.95,119.90 293.10,119.90" fill="#000"/>
<rect x="333.30" y="88.70" width="72.30" height="32.90" fill="none" stroke="#8fcf62" stroke-width="0.9" stroke-dasharray="2.2 0.9"/>
<rect x="333.50" y="130.20" width="71.80" height="31.80" fill="none" stroke="#f4b183" stroke-width="0.9" stroke-dasharray="2.2 0.9"/>
<rect x="337.00" y="94.20" width="22.30" height="21.76" fill="#fff" stroke="#3a3a3a" stroke-width="1.0"/>
<text x="348.15" y="103.10" font-size="8.6" text-anchor="middle" fill="#1a1a1a" stroke="#1a1a1a" stroke-width="0.08">A</text>
<text x="348.15" y="113.30" font-size="8.6" text-anchor="middle" fill="#1a1a1a" textLength="16.6" lengthAdjust="spacingAndGlyphs" stroke="#1a1a1a" stroke-width="0.08">0.60</text>
<rect x="379.00" y="94.20" width="22.30" height="21.76" fill="#fff" stroke="#3a3a3a" stroke-width="1.0"/>
<text x="390.15" y="103.10" font-size="8.6" text-anchor="middle" fill="#1a1a1a" stroke="#1a1a1a" stroke-width="0.08">B</text>
<text x="390.15" y="113.30" font-size="8.6" text-anchor="middle" fill="#1a1a1a" textLength="16.6" lengthAdjust="spacingAndGlyphs" stroke="#1a1a1a" stroke-width="0.08">0.40</text>
<rect x="337.00" y="136.30" width="22.30" height="22.10" fill="#fff" stroke="#3a3a3a" stroke-width="1.0"/>
<text x="348.15" y="145.20" font-size="8.6" text-anchor="middle" fill="#1a1a1a" stroke="#1a1a1a" stroke-width="0.08">C</text>
<text x="348.15" y="155.40" font-size="8.6" text-anchor="middle" fill="#1a1a1a" textLength="16.6" lengthAdjust="spacingAndGlyphs" stroke="#1a1a1a" stroke-width="0.08">0.76</text>
<rect x="379.00" y="136.30" width="22.30" height="22.10" fill="#fff" stroke="#3a3a3a" stroke-width="1.0"/>
<text x="390.15" y="145.20" font-size="8.6" text-anchor="middle" fill="#1a1a1a" stroke="#1a1a1a" stroke-width="0.08">D</text>
<text x="390.15" y="155.40" font-size="8.6" text-anchor="middle" fill="#1a1a1a" textLength="16.6" lengthAdjust="spacingAndGlyphs" stroke="#1a1a1a" stroke-width="0.08">0.56</text>
<polygon points="359.10,104.40 363.10,100.80 363.10,102.85 375.10,102.85 375.10,100.80 379.10,104.40 375.10,108.00 375.10,105.95 363.10,105.95 363.10,108.00" fill="#74bb45"/>
<polygon points="359.10,145.80 363.10,142.10 363.10,144.10 375.10,144.10 375.10,142.10 379.10,145.80 375.10,149.50 375.10,147.50 363.10,147.50 363.10,149.50" fill="#ec7a30"/>
<text x="369.00" y="102.00" font-size="6.8" text-anchor="middle" fill="#1a1a1a">30</text>
<text x="369.00" y="142.90" font-size="6.8" text-anchor="middle" fill="#1a1a1a">30</text>
<polygon points="348.10,115.60 351.50,119.90 349.65,119.90 349.65,132.00 351.50,132.00 348.10,136.30 344.70,132.00 346.55,132.00 346.55,119.90 344.70,119.90" fill="#000"/>
<polygon points="390.20,115.60 393.60,119.90 391.75,119.90 391.75,132.00 393.60,132.00 390.20,136.30 386.80,132.00 388.65,132.00 388.65,119.90 386.80,119.90" fill="#000"/>
<rect x="419.90" y="88.70" width="72.30" height="32.90" fill="none" stroke="#8fcf62" stroke-width="0.9" stroke-dasharray="2.2 0.9"/>
<rect x="420.10" y="130.20" width="71.80" height="31.80" fill="none" stroke="#f4b183" stroke-width="0.9" stroke-dasharray="2.2 0.9"/>
<rect x="423.60" y="94.20" width="22.30" height="21.76" fill="#fff" stroke="#3a3a3a" stroke-width="1.0"/>
<text x="434.75" y="103.10" font-size="8.6" text-anchor="middle" fill="#1a1a1a" stroke="#1a1a1a" stroke-width="0.08">A</text>
<text x="434.75" y="113.30" font-size="8.6" text-anchor="middle" fill="#1a1a1a" textLength="16.6" lengthAdjust="spacingAndGlyphs" stroke="#1a1a1a" stroke-width="0.08">0.60</text>
<rect x="465.60" y="94.20" width="22.30" height="21.76" fill="#fff" stroke="#3a3a3a" stroke-width="1.0"/>
<text x="476.75" y="103.10" font-size="8.6" text-anchor="middle" fill="#1a1a1a" stroke="#1a1a1a" stroke-width="0.08">B</text>
<text x="476.75" y="113.30" font-size="8.6" text-anchor="middle" fill="#1a1a1a" textLength="16.6" lengthAdjust="spacingAndGlyphs" stroke="#1a1a1a" stroke-width="0.08">0.40</text>
<rect x="423.60" y="136.30" width="22.30" height="22.10" fill="#fff" stroke="#3a3a3a" stroke-width="1.0"/>
<text x="434.75" y="145.20" font-size="8.6" text-anchor="middle" fill="#1a1a1a" stroke="#1a1a1a" stroke-width="0.08">C</text>
<text x="434.75" y="155.40" font-size="8.6" text-anchor="middle" fill="#1a1a1a" textLength="16.6" lengthAdjust="spacingAndGlyphs" stroke="#1a1a1a" stroke-width="0.08">0.76</text>
<rect x="465.60" y="136.30" width="22.30" height="22.10" fill="#fff" stroke="#3a3a3a" stroke-width="1.0"/>
<text x="476.75" y="145.20" font-size="8.6" text-anchor="middle" fill="#1a1a1a" stroke="#1a1a1a" stroke-width="0.08">D</text>
<text x="476.75" y="155.40" font-size="8.6" text-anchor="middle" fill="#1a1a1a" textLength="16.6" lengthAdjust="spacingAndGlyphs" stroke="#1a1a1a" stroke-width="0.08">0.56</text>
<polygon points="445.70,104.40 449.70,100.80 449.70,102.85 461.70,102.85 461.70,100.80 465.70,104.40 461.70,108.00 461.70,105.95 449.70,105.95 449.70,108.00" fill="#74bb45"/>
<polygon points="445.70,145.80 449.70,142.10 449.70,144.10 461.70,144.10 461.70,142.10 465.70,145.80 461.70,149.50 461.70,147.50 449.70,147.50 449.70,149.50" fill="#ec7a30"/>
<text x="455.60" y="102.00" font-size="6.8" text-anchor="middle" fill="#1a1a1a">30</text>
<text x="455.60" y="142.90" font-size="6.8" text-anchor="middle" fill="#1a1a1a">30</text>
<polygon points="434.70,115.60 438.10,119.90 436.25,119.90 436.25,132.00 438.10,132.00 434.70,136.30 431.30,132.00 433.15,132.00 433.15,119.90 431.30,119.90" fill="#000"/>
<polygon points="476.80,115.60 480.20,119.90 478.35,119.90 478.35,132.00 480.20,132.00 476.80,136.30 473.40,132.00 475.25,132.00 475.25,119.90 473.40,119.90" fill="#000"/>
<clipPath id="cp506"><rect x="506.30" y="87.50" width="81.10" height="29.90"/></clipPath>
<path d="M506.40,117.40 L506.40,113.20 L506.90,112.93 L507.40,112.52 L507.90,111.90 L508.40,111.03 L508.90,109.85 L509.40,108.35 L509.90,106.55 L510.40,104.51 L510.90,102.32 L511.40,100.09 L511.90,97.94 L512.40,95.96 L512.90,94.24 L513.40,92.81 L513.90,91.68 L514.40,90.85 L514.90,90.28 L515.40,89.92 L515.90,89.72 L516.40,89.63 L516.90,89.60 L517.40,89.60 L517.90,89.62 L518.40,89.70 L518.90,89.87 L519.40,90.20 L519.90,90.73 L520.40,91.51 L520.90,92.59 L521.40,93.99 L521.90,95.69 L522.40,97.67 L522.90,99.85 L523.40,102.14 L523.90,104.41 L524.40,106.57 L524.90,108.50 L525.40,110.14 L525.90,111.45 L526.40,112.45 L526.90,113.18 L527.40,113.68 L527.90,114.02 L528.40,114.26 L528.90,114.44 L529.40,114.58 L529.90,114.70 L530.40,114.81 L530.90,114.91 L531.40,115.00 L531.90,114.98 L531.90,117.40 Z" fill="#c8dcf0" clip-path="url(#cp506)"/>
<path d="M531.90,117.40 L531.90,114.98 L532.40,114.93 L532.90,114.86 L533.40,114.79 L533.90,114.70 L534.40,114.58 L534.90,114.41 L535.40,114.15 L535.90,113.75 L536.40,113.15 L536.90,112.29 L537.40,111.12 L537.90,109.61 L538.40,107.79 L538.90,105.69 L539.40,103.41 L539.90,101.07 L540.40,98.79 L540.90,96.67 L541.40,94.80 L541.90,93.24 L542.40,91.99 L542.90,91.06 L543.40,90.41 L543.90,90.00 L544.40,89.76 L544.90,89.65 L545.40,89.61 L545.90,89.60 L546.40,89.62 L546.90,89.68 L547.40,89.84 L547.90,90.14 L548.40,90.65 L548.90,91.42 L549.40,92.49 L549.90,93.88 L550.40,95.60 L550.90,97.62 L551.40,99.87 L551.90,102.25 L552.40,104.65 L552.90,106.95 L553.40,109.03 L553.90,110.81 L554.40,112.25 L554.90,113.36 L555.40,114.17 L555.90,114.74 L556.40,115.13 L556.90,115.39 L557.40,115.59 L557.90,115.74 L558.40,115.87 L558.90,115.98 L559.40,116.09 L559.90,116.19 L560.40,116.22 L560.40,117.40 Z" fill="#dde9f6" clip-path="url(#cp506)"/>
<path d="M560.40,117.40 L560.40,116.22 L560.90,116.17 L561.40,116.11 L561.90,116.03 L562.40,115.95 L562.90,115.85 L563.40,115.70 L563.90,115.49 L564.40,115.16 L564.90,114.67 L565.40,113.94 L565.90,112.92 L566.40,111.55 L566.90,109.83 L567.40,107.79 L567.90,105.51 L568.40,103.08 L568.90,100.64 L569.40,98.31 L569.90,96.18 L570.40,94.35 L570.90,92.85 L571.40,91.68 L571.90,90.83 L572.40,90.25 L572.90,89.90 L573.40,89.71 L573.90,89.62 L574.40,89.60 L574.90,89.60 L575.40,89.63 L575.90,89.73 L576.40,89.95 L576.90,90.35 L577.40,90.99 L577.90,91.91 L578.40,93.16 L578.90,94.76 L579.40,96.69 L579.90,98.91 L580.40,101.33 L580.90,103.85 L581.40,106.33 L581.90,108.65 L582.40,110.70 L582.90,112.43 L583.40,113.80 L583.90,114.82 L584.40,115.56 L584.90,116.07 L585.40,116.42 L585.90,116.66 L586.40,116.85 L586.90,116.99 L587.40,117.12 L587.90,117.23 L587.90,117.40 Z" fill="#e4ecf7" clip-path="url(#cp506)"/>
<rect x="506.30" y="87.50" width="81.10" height="29.90" fill="none" stroke="#4a86d0" stroke-width="0.8" stroke-dasharray="2.2 0.9"/>
<path d="M501.40,113.92 L501.90,113.89 L502.40,113.86 L502.90,113.82 L503.40,113.77 L503.90,113.72 L504.40,113.66 L504.90,113.58 L505.40,113.50 L505.90,113.37 L506.40,113.20 L506.90,112.93 L507.40,112.52 L507.90,111.90 L508.40,111.03 L508.90,109.85 L509.40,108.35 L509.90,106.55 L510.40,104.51 L510.90,102.32 L511.40,100.09 L511.90,97.94 L512.40,95.96 L512.90,94.24 L513.40,92.81 L513.90,91.68 L514.40,90.85 L514.90,90.28 L515.40,89.92 L515.90,89.72 L516.40,89.63 L516.90,89.60 L517.40,89.60 L517.90,89.62 L518.40,89.70 L518.90,89.87 L519.40,90.20 L519.90,90.73 L520.40,91.51 L520.90,92.59 L521.40,93.99 L521.90,95.69 L522.40,97.67 L522.90,99.85 L523.40,102.14 L523.90,104.41 L524.40,106.57 L524.90,108.50 L525.40,110.14 L525.90,111.45 L526.40,112.45 L526.90,113.18 L527.40,113.68 L527.90,114.02 L528.40,114.26 L528.90,114.44 L529.40,114.58 L529.90,114.70 L530.40,114.81 L530.90,114.91 L531.40,115.00 L531.90,114.98 L532.40,114.93 L532.90,114.86 L533.40,114.79 L533.90,114.70 L534.40,114.58 L534.90,114.41 L535.40,114.15 L535.90,113.75 L536.40,113.15 L536.90,112.29 L537.40,111.12 L537.90,109.61 L538.40,107.79 L538.90,105.69 L539.40,103.41 L539.90,101.07 L540.40,98.79 L540.90,96.67 L541.40,94.80 L541.90,93.24 L542.40,91.99 L542.90,91.06 L543.40,90.41 L543.90,90.00 L544.40,89.76 L544.90,89.65 L545.40,89.61 L545.90,89.60 L546.40,89.62 L546.90,89.68 L547.40,89.84 L547.90,90.14 L548.40,90.65 L548.90,91.42 L549.40,92.49 L549.90,93.88 L550.40,95.60 L550.90,97.62 L551.40,99.87 L551.90,102.25 L552.40,104.65 L552.90,106.95 L553.40,109.03 L553.90,110.81 L554.40,112.25 L554.90,113.36 L555.40,114.17 L555.90,114.74 L556.40,115.13 L556.90,115.39 L557.40,115.59 L557.90,115.74 L558.40,115.87 L558.90,115.98 L559.40,116.09 L559.90,116.19 L560.40,116.22 L560.90,116.17 L561.40,116.11 L561.90,116.03 L562.40,115.95 L562.90,115.85 L563.40,115.70 L563.90,115.49 L564.40,115.16 L564.90,114.67 L565.40,113.94 L565.90,112.92 L566.40,111.55 L566.90,109.83 L567.40,107.79 L567.90,105.51 L568.40,103.08 L568.90,100.64 L569.40,98.31 L569.90,96.18 L570.40,94.35 L570.90,92.85 L571.40,91.68 L571.90,90.83 L572.40,90.25 L572.90,89.90 L573.40,89.71 L573.90,89.62 L574.40,89.60 L574.90,89.60 L575.40,89.63 L575.90,89.73 L576.40,89.95 L576.90,90.35 L577.40,90.99 L577.90,91.91 L578.40,93.16 L578.90,94.76 L579.40,96.69 L579.90,98.91 L580.40,101.33 L580.90,103.85 L581.40,106.33 L581.90,108.65 L582.40,110.70 L582.90,112.43 L583.40,113.80 L583.90,114.82 L584.40,115.56 L584.90,116.07 L585.40,116.42 L585.90,116.66 L586.40,116.85 L586.90,116.99 L587.40,117.12 L587.90,117.23 L588.40,117.34 L588.90,117.44 L589.40,117.53 L589.90,117.62 L590.40,117.70 L590.90,117.77 L591.40,117.84 L591.90,117.91" fill="none" stroke="#4a86d0" stroke-width="0.75"/>
<text x="516.90" y="100.60" font-size="8.2" text-anchor="middle" fill="#1a1a1a" stroke="#1a1a1a" stroke-width="0.08">A</text>
<text x="517.20" y="111.50" font-size="8.2" text-anchor="middle" fill="#1a1a1a" textLength="8.6" lengthAdjust="spacingAndGlyphs" stroke="#1a1a1a" stroke-width="0.08">70</text>
<text x="545.50" y="100.60" font-size="8.2" text-anchor="middle" fill="#1a1a1a" stroke="#1a1a1a" stroke-width="0.08">B</text>
<text x="545.80" y="111.50" font-size="8.2" text-anchor="middle" fill="#1a1a1a" textLength="8.6" lengthAdjust="spacingAndGlyphs" stroke="#1a1a1a" stroke-width="0.08">60</text>
<text x="574.30" y="100.60" font-size="8.2" text-anchor="middle" fill="#1a1a1a" stroke="#1a1a1a" stroke-width="0.08">C</text>
<text x="574.60" y="111.50" font-size="8.2" text-anchor="middle" fill="#1a1a1a" textLength="8.6" lengthAdjust="spacingAndGlyphs" stroke="#1a1a1a" stroke-width="0.08">50</text>
<text x="531.90" y="101.80" font-size="7.4" text-anchor="middle" fill="#1a1a1a" textLength="8.3" lengthAdjust="spacingAndGlyphs">40</text>
<polygon points="526.60,105.60 529.90,102.90 529.90,104.35 533.90,104.35 533.90,102.90 537.20,105.60 533.90,108.30 533.90,106.85 529.90,106.85 529.90,108.30" fill="#3d78c8"/>
<clipPath id="cp507"><rect x="507.30" y="132.00" width="81.10" height="29.90"/></clipPath>
<path d="M507.60,161.90 L507.60,157.18 L508.10,156.62 L508.60,155.93 L509.10,155.09 L509.60,154.07 L510.10,152.88 L510.60,151.51 L511.10,149.97 L511.60,148.27 L512.10,146.45 L512.60,144.55 L513.10,142.60 L513.60,140.67 L514.10,138.82 L514.60,137.10 L515.10,135.58 L515.60,134.32 L516.10,133.34 L516.60,132.68 L517.10,132.35 L517.60,132.32 L518.10,132.59 L518.60,133.18 L519.10,134.10 L519.60,135.33 L520.10,136.81 L520.60,138.52 L521.10,140.37 L521.60,142.33 L522.10,144.31 L522.60,146.27 L523.10,148.16 L523.60,149.94 L524.10,151.56 L524.60,153.03 L525.10,154.31 L525.60,155.41 L526.10,156.35 L526.60,157.12 L527.10,157.75 L527.60,158.25 L528.10,158.64 L528.60,158.95 L529.10,159.18 L529.60,159.36 L530.10,159.49 L530.60,159.59 L531.10,159.67 L531.60,159.72 L532.10,159.77 L532.60,159.78 L532.60,161.90 Z" fill="#f3c3c7" clip-path="url(#cp507)"/>
<path d="M532.60,161.90 L532.60,159.78 L533.10,159.77 L533.60,159.75 L534.10,159.71 L534.60,159.64 L535.10,159.53 L535.60,159.38 L536.10,159.17 L536.60,158.88 L537.10,158.50 L537.60,158.00 L538.10,157.37 L538.60,156.58 L539.10,155.63 L539.60,154.50 L540.10,153.18 L540.60,151.68 L541.10,150.01 L541.60,148.19 L542.10,146.25 L542.60,144.24 L543.10,142.22 L543.60,140.23 L544.10,138.35 L544.60,136.64 L545.10,135.16 L545.60,133.95 L546.10,133.07 L546.60,132.52 L547.10,132.31 L547.60,132.39 L548.10,132.81 L548.60,133.56 L549.10,134.65 L549.60,136.04 L550.10,137.68 L550.60,139.53 L551.10,141.51 L551.60,143.56 L552.10,145.62 L552.60,147.64 L553.10,149.56 L553.60,151.35 L554.10,152.98 L554.60,154.42 L555.10,155.68 L555.60,156.76 L556.10,157.66 L556.60,158.40 L557.10,159.00 L557.60,159.48 L558.10,159.85 L558.60,160.13 L559.10,160.35 L559.60,160.51 L560.10,160.63 L560.60,160.73 L561.10,160.79 L561.60,160.83 L561.60,161.90 Z" fill="#f8dcdd" clip-path="url(#cp507)"/>
<path d="M561.60,161.90 L561.60,160.83 L562.10,160.80 L562.60,160.76 L563.10,160.69 L563.60,160.58 L564.10,160.42 L564.60,160.20 L565.10,159.90 L565.60,159.50 L566.10,158.98 L566.60,158.32 L567.10,157.51 L567.60,156.52 L568.10,155.34 L568.60,153.98 L569.10,152.42 L569.60,150.68 L570.10,148.79 L570.60,146.78 L571.10,144.70 L571.60,142.59 L572.10,140.53 L572.60,138.58 L573.10,136.80 L573.60,135.26 L574.10,134.02 L574.60,133.09 L575.10,132.52 L575.60,132.31 L576.10,132.40 L576.60,132.82 L577.10,133.61 L577.60,134.74 L578.10,136.18 L578.60,137.89 L579.10,139.80 L579.60,141.85 L580.10,143.98 L580.60,146.12 L581.10,148.22 L581.60,150.21 L582.10,152.06 L582.60,153.75 L583.10,155.25 L583.60,156.56 L584.10,157.67 L584.60,158.61 L585.10,159.37 L585.60,159.99 L586.10,160.49 L586.60,160.87 L587.10,161.16 L587.60,161.39 L588.10,161.56 L588.60,161.68 L588.60,161.90 Z" fill="#fae4e4" clip-path="url(#cp507)"/>
<rect x="507.30" y="132.00" width="81.10" height="29.90" fill="none" stroke="#ee3333" stroke-width="0.8" stroke-dasharray="2.2 0.9"/>
<path d="M502.10,158.68 L502.60,158.68 L503.10,158.67 L503.60,158.66 L504.10,158.63 L504.60,158.57 L505.10,158.49 L505.60,158.36 L506.10,158.18 L506.60,157.94 L507.10,157.61 L507.60,157.18 L508.10,156.62 L508.60,155.93 L509.10,155.09 L509.60,154.07 L510.10,152.88 L510.60,151.51 L511.10,149.97 L511.60,148.27 L512.10,146.45 L512.60,144.55 L513.10,142.60 L513.60,140.67 L514.10,138.82 L514.60,137.10 L515.10,135.58 L515.60,134.32 L516.10,133.34 L516.60,132.68 L517.10,132.35 L517.60,132.32 L518.10,132.59 L518.60,133.18 L519.10,134.10 L519.60,135.33 L520.10,136.81 L520.60,138.52 L521.10,140.37 L521.60,142.33 L522.10,144.31 L522.60,146.27 L523.10,148.16 L523.60,149.94 L524.10,151.56 L524.60,153.03 L525.10,154.31 L525.60,155.41 L526.10,156.35 L526.60,157.12 L527.10,157.75 L527.60,158.25 L528.10,158.64 L528.60,158.95 L529.10,159.18 L529.60,159.36 L530.10,159.49 L530.60,159.59 L531.10,159.67 L531.60,159.72 L532.10,159.77 L532.60,159.78 L533.10,159.77 L533.60,159.75 L534.10,159.71 L534.60,159.64 L535.10,159.53 L535.60,159.38 L536.10,159.17 L536.60,158.88 L537.10,158.50 L537.60,158.00 L538.10,157.37 L538.60,156.58 L539.10,155.63 L539.60,154.50 L540.10,153.18 L540.60,151.68 L541.10,150.01 L541.60,148.19 L542.10,146.25 L542.60,144.24 L543.10,142.22 L543.60,140.23 L544.10,138.35 L544.60,136.64 L545.10,135.16 L545.60,133.95 L546.10,133.07 L546.60,132.52 L547.10,132.31 L547.60,132.39 L548.10,132.81 L548.60,133.56 L549.10,134.65 L549.60,136.04 L550.10,137.68 L550.60,139.53 L551.10,141.51 L551.60,143.56 L552.10,145.62 L552.60,147.64 L553.10,149.56 L553.60,151.35 L554.10,152.98 L554.60,154.42 L555.10,155.68 L555.60,156.76 L556.10,157.66 L556.60,158.40 L557.10,159.00 L557.60,159.48 L558.10,159.85 L558.60,160.13 L559.10,160.35 L559.60,160.51 L560.10,160.63 L560.60,160.73 L561.10,160.79 L561.60,160.83 L562.10,160.80 L562.60,160.76 L563.10,160.69 L563.60,160.58 L564.10,160.42 L564.60,160.20 L565.10,159.90 L565.60,159.50 L566.10,158.98 L566.60,158.32 L567.10,157.51 L567.60,156.52 L568.10,155.34 L568.60,153.98 L569.10,152.42 L569.60,150.68 L570.10,148.79 L570.60,146.78 L571.10,144.70 L571.60,142.59 L572.10,140.53 L572.60,138.58 L573.10,136.80 L573.60,135.26 L574.10,134.02 L574.60,133.09 L575.10,132.52 L575.60,132.31 L576.10,132.40 L576.60,132.82 L577.10,133.61 L577.60,134.74 L578.10,136.18 L578.60,137.89 L579.10,139.80 L579.60,141.85 L580.10,143.98 L580.60,146.12 L581.10,148.22 L581.60,150.21 L582.10,152.06 L582.60,153.75 L583.10,155.25 L583.60,156.56 L584.10,157.67 L584.60,158.61 L585.10,159.37 L585.60,159.99 L586.10,160.49 L586.60,160.87 L587.10,161.16 L587.60,161.39 L588.10,161.56 L588.60,161.68 L589.10,161.78 L589.60,161.85 L590.10,161.90 L590.60,161.94" fill="none" stroke="#ee2a2a" stroke-width="0.75"/>
<text x="517.10" y="145.60" font-size="8.2" text-anchor="middle" fill="#1a1a1a" stroke="#1a1a1a" stroke-width="0.08">D</text>
<text x="517.40" y="156.20" font-size="8.2" text-anchor="middle" fill="#1a1a1a" textLength="8.6" lengthAdjust="spacingAndGlyphs" stroke="#1a1a1a" stroke-width="0.08">70</text>
<text x="546.90" y="145.60" font-size="8.2" text-anchor="middle" fill="#1a1a1a" stroke="#1a1a1a" stroke-width="0.08">E</text>
<text x="547.20" y="156.20" font-size="8.2" text-anchor="middle" fill="#1a1a1a" textLength="8.6" lengthAdjust="spacingAndGlyphs" stroke="#1a1a1a" stroke-width="0.08">40</text>
<text x="575.40" y="145.60" font-size="8.2" text-anchor="middle" fill="#1a1a1a" stroke="#1a1a1a" stroke-width="0.08">F</text>
<text x="575.70" y="156.20" font-size="8.2" text-anchor="middle" fill="#1a1a1a" textLength="8.6" lengthAdjust="spacingAndGlyphs" stroke="#1a1a1a" stroke-width="0.08">10</text>
<text x="532.10" y="145.60" font-size="7.4" text-anchor="middle" fill="#1a1a1a" textLength="8.3" lengthAdjust="spacingAndGlyphs">40</text>
<polygon points="526.80,149.10 530.10,146.40 530.10,147.85 534.10,147.85 534.10,146.40 537.40,149.10 534.10,151.80 534.10,150.35 530.10,150.35 530.10,151.80" fill="#ff1010"/>
<polygon points="517.80,114.10 521.20,118.40 519.35,118.40 519.35,129.80 521.20,129.80 517.80,134.10 514.40,129.80 516.25,129.80 516.25,118.40 514.40,118.40" fill="#000"/>
<polygon points="547.10,114.10 550.50,118.40 548.65,118.40 548.65,129.80 550.50,129.80 547.10,134.10 543.70,129.80 545.55,129.80 545.55,118.40 543.70,118.40" fill="#000"/>
<polygon points="575.50,114.10 578.90,118.40 577.05,118.40 577.05,129.80 578.90,129.80 575.50,134.10 572.10,129.80 573.95,129.80 573.95,118.40 572.10,118.40" fill="#000"/>
<clipPath id="cp598"><rect x="598.30" y="88.20" width="81.10" height="29.20"/></clipPath>
<path d="M598.40,117.40 L598.40,113.20 L598.90,112.93 L599.40,112.52 L599.90,111.90 L600.40,111.03 L600.90,109.85 L601.40,108.35 L601.90,106.55 L602.40,104.51 L602.90,102.32 L603.40,100.09 L603.90,97.94 L604.40,95.96 L604.90,94.24 L605.40,92.81 L605.90,91.68 L606.40,90.85 L606.90,90.28 L607.40,89.92 L607.90,89.72 L608.40,89.63 L608.90,89.60 L609.40,89.60 L609.90,89.62 L610.40,89.70 L610.90,89.87 L611.40,90.20 L611.90,90.73 L612.40,91.51 L612.90,92.59 L613.40,93.99 L613.90,95.69 L614.40,97.67 L614.90,99.85 L615.40,102.14 L615.90,104.41 L616.40,106.57 L616.90,108.50 L617.40,110.14 L617.90,111.45 L618.40,112.45 L618.90,113.18 L619.40,113.68 L619.90,114.02 L620.40,114.26 L620.90,114.44 L621.40,114.58 L621.90,114.70 L622.40,114.81 L622.90,114.91 L623.40,115.00 L623.90,114.98 L623.90,117.40 Z" fill="#c8dcf0" clip-path="url(#cp598)"/>
<path d="M623.90,117.40 L623.90,114.98 L624.40,114.93 L624.90,114.86 L625.40,114.79 L625.90,114.70 L626.40,114.58 L626.90,114.41 L627.40,114.15 L627.90,113.75 L628.40,113.15 L628.90,112.29 L629.40,111.12 L629.90,109.61 L630.40,107.79 L630.90,105.69 L631.40,103.41 L631.90,101.07 L632.40,98.79 L632.90,96.67 L633.40,94.80 L633.90,93.24 L634.40,91.99 L634.90,91.06 L635.40,90.41 L635.90,90.00 L636.40,89.76 L636.90,89.65 L637.40,89.61 L637.90,89.60 L638.40,89.62 L638.90,89.68 L639.40,89.84 L639.90,90.14 L640.40,90.65 L640.90,91.42 L641.40,92.49 L641.90,93.88 L642.40,95.60 L642.90,97.62 L643.40,99.87 L643.90,102.25 L644.40,104.65 L644.90,106.95 L645.40,109.03 L645.90,110.81 L646.40,112.25 L646.90,113.36 L647.40,114.17 L647.90,114.74 L648.40,115.13 L648.90,115.39 L649.40,115.59 L649.90,115.74 L650.40,115.87 L650.90,115.98 L651.40,116.09 L651.90,116.19 L652.40,116.22 L652.40,117.40 Z" fill="#dde9f6" clip-path="url(#cp598)"/>
<path d="M652.40,117.40 L652.40,116.22 L652.90,116.17 L653.40,116.11 L653.90,116.03 L654.40,115.95 L654.90,115.85 L655.40,115.70 L655.90,115.49 L656.40,115.16 L656.90,114.67 L657.40,113.94 L657.90,112.92 L658.40,111.55 L658.90,109.83 L659.40,107.79 L659.90,105.51 L660.40,103.08 L660.90,100.64 L661.40,98.31 L661.90,96.18 L662.40,94.35 L662.90,92.85 L663.40,91.68 L663.90,90.83 L664.40,90.25 L664.90,89.90 L665.40,89.71 L665.90,89.62 L666.40,89.60 L666.90,89.60 L667.40,89.63 L667.90,89.73 L668.40,89.95 L668.90,90.35 L669.40,90.99 L669.90,91.91 L670.40,93.16 L670.90,94.76 L671.40,96.69 L671.90,98.91 L672.40,101.33 L672.90,103.85 L673.40,106.33 L673.90,108.65 L674.40,110.70 L674.90,112.43 L675.40,113.80 L675.90,114.82 L676.40,115.56 L676.90,116.07 L677.40,116.42 L677.90,116.66 L678.40,116.85 L678.90,116.99 L679.40,117.12 L679.90,117.23 L679.90,117.40 Z" fill="#e4ecf7" clip-path="url(#cp598)"/>
<rect x="598.30" y="88.20" width="81.10" height="29.20" fill="none" stroke="#4a86d0" stroke-width="0.8" stroke-dasharray="2.2 0.9"/>
<path d="M593.40,113.92 L593.90,113.89 L594.40,113.86 L594.90,113.82 L595.40,113.77 L595.90,113.72 L596.40,113.66 L596.90,113.58 L597.40,113.50 L597.90,113.37 L598.40,113.20 L598.90,112.93 L599.40,112.52 L599.90,111.90 L600.40,111.03 L600.90,109.85 L601.40,108.35 L601.90,106.55 L602.40,104.51 L602.90,102.32 L603.40,100.09 L603.90,97.94 L604.40,95.96 L604.90,94.24 L605.40,92.81 L605.90,91.68 L606.40,90.85 L606.90,90.28 L607.40,89.92 L607.90,89.72 L608.40,89.63 L608.90,89.60 L609.40,89.60 L609.90,89.62 L610.40,89.70 L610.90,89.87 L611.40,90.20 L611.90,90.73 L612.40,91.51 L612.90,92.59 L613.40,93.99 L613.90,95.69 L614.40,97.67 L614.90,99.85 L615.40,102.14 L615.90,104.41 L616.40,106.57 L616.90,108.50 L617.40,110.14 L617.90,111.45 L618.40,112.45 L618.90,113.18 L619.40,113.68 L619.90,114.02 L620.40,114.26 L620.90,114.44 L621.40,114.58 L621.90,114.70 L622.40,114.81 L622.90,114.91 L623.40,115.00 L623.90,114.98 L624.40,114.93 L624.90,114.86 L625.40,114.79 L625.90,114.70 L626.40,114.58 L626.90,114.41 L627.40,114.15 L627.90,113.75 L628.40,113.15 L628.90,112.29 L629.40,111.12 L629.90,109.61 L630.40,107.79 L630.90,105.69 L631.40,103.41 L631.90,101.07 L632.40,98.79 L632.90,96.67 L633.40,94.80 L633.90,93.24 L634.40,91.99 L634.90,91.06 L635.40,90.41 L635.90,90.00 L636.40,89.76 L636.90,89.65 L637.40,89.61 L637.90,89.60 L638.40,89.62 L638.90,89.68 L639.40,89.84 L639.90,90.14 L640.40,90.65 L640.90,91.42 L641.40,92.49 L641.90,93.88 L642.40,95.60 L642.90,97.62 L643.40,99.87 L643.90,102.25 L644.40,104.65 L644.90,106.95 L645.40,109.03 L645.90,110.81 L646.40,112.25 L646.90,113.36 L647.40,114.17 L647.90,114.74 L648.40,115.13 L648.90,115.39 L649.40,115.59 L649.90,115.74 L650.40,115.87 L650.90,115.98 L651.40,116.09 L651.90,116.19 L652.40,116.22 L652.90,116.17 L653.40,116.11 L653.90,116.03 L654.40,115.95 L654.90,115.85 L655.40,115.70 L655.90,115.49 L656.40,115.16 L656.90,114.67 L657.40,113.94 L657.90,112.92 L658.40,111.55 L658.90,109.83 L659.40,107.79 L659.90,105.51 L660.40,103.08 L660.90,100.64 L661.40,98.31 L661.90,96.18 L662.40,94.35 L662.90,92.85 L663.40,91.68 L663.90,90.83 L664.40,90.25 L664.90,89.90 L665.40,89.71 L665.90,89.62 L666.40,89.60 L666.90,89.60 L667.40,89.63 L667.90,89.73 L668.40,89.95 L668.90,90.35 L669.40,90.99 L669.90,91.91 L670.40,93.16 L670.90,94.76 L671.40,96.69 L671.90,98.91 L672.40,101.33 L672.90,103.85 L673.40,106.33 L673.90,108.65 L674.40,110.70 L674.90,112.43 L675.40,113.80 L675.90,114.82 L676.40,115.56 L676.90,116.07 L677.40,116.42 L677.90,116.66 L678.40,116.85 L678.90,116.99 L679.40,117.12 L679.90,117.23 L680.40,117.34 L680.90,117.44 L681.40,117.53 L681.90,117.62 L682.40,117.70 L682.90,117.77 L683.40,117.84 L683.90,117.91" fill="none" stroke="#4a86d0" stroke-width="0.75"/>
<text x="608.90" y="100.60" font-size="8.2" text-anchor="middle" fill="#1a1a1a" stroke="#1a1a1a" stroke-width="0.08">A</text>
<text x="609.20" y="111.50" font-size="8.2" text-anchor="middle" fill="#1a1a1a" textLength="8.6" lengthAdjust="spacingAndGlyphs" stroke="#1a1a1a" stroke-width="0.08">70</text>
<text x="637.50" y="100.60" font-size="8.2" text-anchor="middle" fill="#1a1a1a" stroke="#1a1a1a" stroke-width="0.08">B</text>
<text x="637.80" y="111.50" font-size="8.2" text-anchor="middle" fill="#1a1a1a" textLength="8.6" lengthAdjust="spacingAndGlyphs" stroke="#1a1a1a" stroke-width="0.08">60</text>
<text x="666.30" y="100.60" font-size="8.2" text-anchor="middle" fill="#1a1a1a" stroke="#1a1a1a" stroke-width="0.08">C</text>
<text x="666.60" y="111.50" font-size="8.2" text-anchor="middle" fill="#1a1a1a" textLength="8.6" lengthAdjust="spacingAndGlyphs" stroke="#1a1a1a" stroke-width="0.08">50</text>
<text x="623.90" y="101.80" font-size="7.4" text-anchor="middle" fill="#1a1a1a" textLength="8.3" lengthAdjust="spacingAndGlyphs">40</text>
<polygon points="618.60,105.60 621.90,102.90 621.90,104.35 625.90,104.35 625.90,102.90 629.20,105.60 625.90,108.30 625.90,106.85 621.90,106.85 621.90,108.30" fill="#3d78c8"/>
<clipPath id="cp599"><rect x="599.30" y="132.00" width="81.10" height="29.90"/></clipPath>
<path d="M599.60,161.90 L599.60,157.18 L600.10,156.62 L600.60,155.93 L601.10,155.09 L601.60,154.07 L602.10,152.88 L602.60,151.51 L603.10,149.97 L603.60,148.27 L604.10,146.45 L604.60,144.55 L605.10,142.60 L605.60,140.67 L606.10,138.82 L606.60,137.10 L607.10,135.58 L607.60,134.32 L608.10,133.34 L608.60,132.68 L609.10,132.35 L609.60,132.32 L610.10,132.59 L610.60,133.18 L611.10,134.10 L611.60,135.33 L612.10,136.81 L612.60,138.52 L613.10,140.37 L613.60,142.33 L614.10,144.31 L614.60,146.27 L615.10,148.16 L615.60,149.94 L616.10,151.56 L616.60,153.03 L617.10,154.31 L617.60,155.41 L618.10,156.35 L618.60,157.12 L619.10,157.75 L619.60,158.25 L620.10,158.64 L620.60,158.95 L621.10,159.18 L621.60,159.36 L622.10,159.49 L622.60,159.59 L623.10,159.67 L623.60,159.72 L624.10,159.77 L624.60,159.78 L624.60,161.90 Z" fill="#f3c3c7" clip-path="url(#cp599)"/>
<path d="M624.60,161.90 L624.60,159.78 L625.10,159.77 L625.60,159.75 L626.10,159.71 L626.60,159.64 L627.10,159.53 L627.60,159.38 L628.10,159.17 L628.60,158.88 L629.10,158.50 L629.60,158.00 L630.10,157.37 L630.60,156.58 L631.10,155.63 L631.60,154.50 L632.10,153.18 L632.60,151.68 L633.10,150.01 L633.60,148.19 L634.10,146.25 L634.60,144.24 L635.10,142.22 L635.60,140.23 L636.10,138.35 L636.60,136.64 L637.10,135.16 L637.60,133.95 L638.10,133.07 L638.60,132.52 L639.10,132.31 L639.60,132.39 L640.10,132.81 L640.60,133.56 L641.10,134.65 L641.60,136.04 L642.10,137.68 L642.60,139.53 L643.10,141.51 L643.60,143.56 L644.10,145.62 L644.60,147.64 L645.10,149.56 L645.60,151.35 L646.10,152.98 L646.60,154.42 L647.10,155.68 L647.60,156.76 L648.10,157.66 L648.60,158.40 L649.10,159.00 L649.60,159.48 L650.10,159.85 L650.60,160.13 L651.10,160.35 L651.60,160.51 L652.10,160.63 L652.60,160.73 L653.10,160.79 L653.60,160.83 L653.60,161.90 Z" fill="#f8dcdd" clip-path="url(#cp599)"/>
<path d="M653.60,161.90 L653.60,160.83 L654.10,160.80 L654.60,160.76 L655.10,160.69 L655.60,160.58 L656.10,160.42 L656.60,160.20 L657.10,159.90 L657.60,159.50 L658.10,158.98 L658.60,158.32 L659.10,157.51 L659.60,156.52 L660.10,155.34 L660.60,153.98 L661.10,152.42 L661.60,150.68 L662.10,148.79 L662.60,146.78 L663.10,144.70 L663.60,142.59 L664.10,140.53 L664.60,138.58 L665.10,136.80 L665.60,135.26 L666.10,134.02 L666.60,133.09 L667.10,132.52 L667.60,132.31 L668.10,132.40 L668.60,132.82 L669.10,133.61 L669.60,134.74 L670.10,136.18 L670.60,137.89 L671.10,139.80 L671.60,141.85 L672.10,143.98 L672.60,146.12 L673.10,148.22 L673.60,150.21 L674.10,152.06 L674.60,153.75 L675.10,155.25 L675.60,156.56 L676.10,157.67 L676.60,158.61 L677.10,159.37 L677.60,159.99 L678.10,160.49 L678.60,160.87 L679.10,161.16 L679.60,161.39 L680.10,161.56 L680.60,161.68 L680.60,161.90 Z" fill="#fae4e4" clip-path="url(#cp599)"/>
<rect x="599.30" y="132.00" width="81.10" height="29.90" fill="none" stroke="#ee3333" stroke-width="0.8" stroke-dasharray="2.2 0.9"/>
<path d="M594.10,158.68 L594.60,158.68 L595.10,158.67 L595.60,158.66 L596.10,158.63 L596.60,158.57 L597.10,158.49 L597.60,158.36 L598.10,158.18 L598.60,157.94 L599.10,157.61 L599.60,157.18 L600.10,156.62 L600.60,155.93 L601.10,155.09 L601.60,154.07 L602.10,152.88 L602.60,151.51 L603.10,149.97 L603.60,148.27 L604.10,146.45 L604.60,144.55 L605.10,142.60 L605.60,140.67 L606.10,138.82 L606.60,137.10 L607.10,135.58 L607.60,134.32 L608.10,133.34 L608.60,132.68 L609.10,132.35 L609.60,132.32 L610.10,132.59 L610.60,133.18 L611.10,134.10 L611.60,135.33 L612.10,136.81 L612.60,138.52 L613.10,140.37 L613.60,142.33 L614.10,144.31 L614.60,146.27 L615.10,148.16 L615.60,149.94 L616.10,151.56 L616.60,153.03 L617.10,154.31 L617.60,155.41 L618.10,156.35 L618.60,157.12 L619.10,157.75 L619.60,158.25 L620.10,158.64 L620.60,158.95 L621.10,159.18 L621.60,159.36 L622.10,159.49 L622.60,159.59 L623.10,159.67 L623.60,159.72 L624.10,159.77 L624.60,159.78 L625.10,159.77 L625.60,159.75 L626.10,159.71 L626.60,159.64 L627.10,159.53 L627.60,159.38 L628.10,159.17 L628.60,158.88 L629.10,158.50 L629.60,158.00 L630.10,157.37 L630.60,156.58 L631.10,155.63 L631.60,154.50 L632.10,153.18 L632.60,151.68 L633.10,150.01 L633.60,148.19 L634.10,146.25 L634.60,144.24 L635.10,142.22 L635.60,140.23 L636.10,138.35 L636.60,136.64 L637.10,135.16 L637.60,133.95 L638.10,133.07 L638.60,132.52 L639.10,132.31 L639.60,132.39 L640.10,132.81 L640.60,133.56 L641.10,134.65 L641.60,136.04 L642.10,137.68 L642.60,139.53 L643.10,141.51 L643.60,143.56 L644.10,145.62 L644.60,147.64 L645.10,149.56 L645.60,151.35 L646.10,152.98 L646.60,154.42 L647.10,155.68 L647.60,156.76 L648.10,157.66 L648.60,158.40 L649.10,159.00 L649.60,159.48 L650.10,159.85 L650.60,160.13 L651.10,160.35 L651.60,160.51 L652.10,160.63 L652.60,160.73 L653.10,160.79 L653.60,160.83 L654.10,160.80 L654.60,160.76 L655.10,160.69 L655.60,160.58 L656.10,160.42 L656.60,160.20 L657.10,159.90 L657.60,159.50 L658.10,158.98 L658.60,158.32 L659.10,157.51 L659.60,156.52 L660.10,155.34 L660.60,153.98 L661.10,152.42 L661.60,150.68 L662.10,148.79 L662.60,146.78 L663.10,144.70 L663.60,142.59 L664.10,140.53 L664.60,138.58 L665.10,136.80 L665.60,135.26 L666.10,134.02 L666.60,133.09 L667.10,132.52 L667.60,132.31 L668.10,132.40 L668.60,132.82 L669.10,133.61 L669.60,134.74 L670.10,136.18 L670.60,137.89 L671.10,139.80 L671.60,141.85 L672.10,143.98 L672.60,146.12 L673.10,148.22 L673.60,150.21 L674.10,152.06 L674.60,153.75 L675.10,155.25 L675.60,156.56 L676.10,157.67 L676.60,158.61 L677.10,159.37 L677.60,159.99 L678.10,160.49 L678.60,160.87 L679.10,161.16 L679.60,161.39 L680.10,161.56 L680.60,161.68 L681.10,161.78 L681.60,161.85 L682.10,161.90 L682.60,161.94" fill="none" stroke="#ee2a2a" stroke-width="0.75"/>
<text x="609.10" y="145.60" font-size="8.2" text-anchor="middle" fill="#1a1a1a" stroke="#1a1a1a" stroke-width="0.08">D</text>
<text x="609.40" y="156.20" font-size="8.2" text-anchor="middle" fill="#1a1a1a" textLength="8.6" lengthAdjust="spacingAndGlyphs" stroke="#1a1a1a" stroke-width="0.08">70</text>
<text x="638.90" y="145.60" font-size="8.2" text-anchor="middle" fill="#1a1a1a" stroke="#1a1a1a" stroke-width="0.08">E</text>
<text x="639.20" y="156.20" font-size="8.2" text-anchor="middle" fill="#1a1a1a" textLength="8.6" lengthAdjust="spacingAndGlyphs" stroke="#1a1a1a" stroke-width="0.08">40</text>
<text x="667.40" y="145.60" font-size="8.2" text-anchor="middle" fill="#1a1a1a" stroke="#1a1a1a" stroke-width="0.08">F</text>
<text x="667.70" y="156.20" font-size="8.2" text-anchor="middle" fill="#1a1a1a" textLength="8.6" lengthAdjust="spacingAndGlyphs" stroke="#1a1a1a" stroke-width="0.08">10</text>
<text x="624.10" y="145.60" font-size="7.4" text-anchor="middle" fill="#1a1a1a" textLength="8.3" lengthAdjust="spacingAndGlyphs">40</text>
<polygon points="618.80,149.10 622.10,146.40 622.10,147.85 626.10,147.85 626.10,146.40 629.40,149.10 626.10,151.80 626.10,150.35 622.10,150.35 622.10,151.80" fill="#ff1010"/>
<polygon points="609.80,114.10 613.20,118.40 611.35,118.40 611.35,129.80 613.20,129.80 609.80,134.10 606.40,129.80 608.25,129.80 608.25,118.40 606.40,118.40" fill="#000"/>
<polygon points="639.10,114.10 642.50,118.40 640.65,118.40 640.65,129.80 642.50,129.80 639.10,134.10 635.70,129.80 637.55,129.80 637.55,118.40 635.70,118.40" fill="#000"/>
<polygon points="667.50,114.10 670.90,118.40 669.05,118.40 669.05,129.80 670.90,129.80 667.50,134.10 664.10,129.80 665.95,129.80 665.95,118.40 664.10,118.40" fill="#000"/>
<text x="0.80" y="100.20" font-size="10.0" font-weight="bold" text-anchor="start" fill="#111" textLength="48.2" lengthAdjust="spacingAndGlyphs" stroke="#111" stroke-width="0.25">Learning LC</text>
<text x="4.30" y="128.40" font-size="10.0" font-weight="bold" text-anchor="start" fill="#111" textLength="34.3" lengthAdjust="spacingAndGlyphs" stroke="#111" stroke-width="0.25">Transfer</text>
<text x="1.00" y="158.20" font-size="10.0" font-weight="bold" text-anchor="start" fill="#111" textLength="51.5" lengthAdjust="spacingAndGlyphs" stroke="#111" stroke-width="0.25">Learning HC</text>
<polygon points="35.80,104.60 40.20,101.10 40.20,103.10 51.30,103.10 51.30,101.10 55.70,104.60 51.30,108.10 51.30,106.10 40.20,106.10 40.20,108.10" fill="#3e7ccc"/>
<polygon points="35.90,145.80 40.30,142.20 40.30,144.20 52.10,144.20 52.10,142.20 56.50,145.80 52.10,149.40 52.10,147.40 40.30,147.40 40.30,149.40" fill="#ff1a1a"/>
<polygon points="45.40,115.80 49.10,120.30 47.10,120.30 47.10,131.80 49.10,131.80 45.40,136.30 41.70,131.80 43.70,131.80 43.70,120.30 41.70,120.30" fill="#000"/>
<rect x="62.90" y="197.90" width="5.90" height="33.60" fill="#ff1a0a"/>
<rect x="68.80" y="219.32" width="5.90" height="12.17" fill="#1a0aff"/>
<rect x="79.80" y="196.44" width="6.10" height="35.06" fill="#ff1a0a"/>
<rect x="85.90" y="220.79" width="5.70" height="10.71" fill="#1a0aff"/>
<line x1="59.40" y1="233.20" x2="94.00" y2="233.20" stroke="#555" stroke-width="0.75"/>
<line x1="68.80" y1="233.20" x2="68.80" y2="235.80" stroke="#444" stroke-width="0.55"/>
<text x="69.00" y="239.60" font-size="5.4" text-anchor="middle" fill="#222" stroke="#222" stroke-width="0.22" textLength="9.1" lengthAdjust="spacingAndGlyphs">TT 1</text>
<line x1="85.90" y1="233.20" x2="85.90" y2="235.80" stroke="#444" stroke-width="0.55"/>
<text x="86.10" y="239.60" font-size="5.4" text-anchor="middle" fill="#222" stroke="#222" stroke-width="0.22" textLength="9.1" lengthAdjust="spacingAndGlyphs">TT 2</text>
<text x="77.25" y="188.80" font-size="5.2" text-anchor="middle" fill="#222" stroke="#222" stroke-width="0.22" textLength="25.6" lengthAdjust="spacingAndGlyphs">C<tspan font-size="3.4" dy="1.1">HC</tspan><tspan dy="-1.1"> vs. A</tspan><tspan font-size="3.4" dy="1.1">LC</tspan></text>
<rect x="100.90" y="217.38" width="6.30" height="14.12" fill="#f4b8ca"/>
<rect x="107.20" y="199.84" width="5.90" height="31.65" fill="#b0dee5"/>
<rect x="117.40" y="223.71" width="5.90" height="7.79" fill="#f4b8ca"/>
<rect x="123.30" y="193.51" width="6.30" height="37.99" fill="#b0dee5"/>
<line x1="97.50" y1="233.20" x2="132.00" y2="233.20" stroke="#555" stroke-width="0.75"/>
<line x1="107.20" y1="233.20" x2="107.20" y2="235.80" stroke="#444" stroke-width="0.55"/>
<text x="107.40" y="239.60" font-size="5.4" text-anchor="middle" fill="#222" stroke="#222" stroke-width="0.22" textLength="9.1" lengthAdjust="spacingAndGlyphs">TT 1</text>
<line x1="123.30" y1="233.20" x2="123.30" y2="235.80" stroke="#444" stroke-width="0.55"/>
<text x="123.50" y="239.60" font-size="5.4" text-anchor="middle" fill="#222" stroke="#222" stroke-width="0.22" textLength="9.1" lengthAdjust="spacingAndGlyphs">TT 2</text>
<text x="115.25" y="188.80" font-size="5.2" text-anchor="middle" fill="#222" stroke="#222" stroke-width="0.22" textLength="25.6" lengthAdjust="spacingAndGlyphs">D<tspan font-size="3.4" dy="1.1">HC</tspan><tspan dy="-1.1"> vs. B</tspan><tspan font-size="3.4" dy="1.1">LC</tspan></text>
<line x1="59.40" y1="190.54" x2="59.40" y2="233.20" stroke="#555" stroke-width="0.75"/>
<line x1="57.60" y1="231.50" x2="59.40" y2="231.50" stroke="#444" stroke-width="0.55"/>
<text x="57.00" y="233.50" font-size="5.5" text-anchor="end" fill="#333" stroke="#333" stroke-width="0.22">0</text>
<line x1="57.60" y1="221.76" x2="59.40" y2="221.76" stroke="#444" stroke-width="0.55"/>
<text x="57.00" y="223.76" font-size="5.5" text-anchor="end" fill="#333" stroke="#333" stroke-width="0.22">20</text>
<line x1="57.60" y1="212.02" x2="59.40" y2="212.02" stroke="#444" stroke-width="0.55"/>
<text x="57.00" y="214.02" font-size="5.5" text-anchor="end" fill="#333" stroke="#333" stroke-width="0.22">40</text>
<line x1="57.60" y1="202.28" x2="59.40" y2="202.28" stroke="#444" stroke-width="0.55"/>
<text x="57.00" y="204.28" font-size="5.5" text-anchor="end" fill="#333" stroke="#333" stroke-width="0.22">60</text>
<line x1="57.60" y1="192.54" x2="59.40" y2="192.54" stroke="#444" stroke-width="0.55"/>
<text x="57.00" y="194.54" font-size="5.5" text-anchor="end" fill="#333" stroke="#333" stroke-width="0.22">80</text>
<rect x="148.80" y="203.12" width="6.30" height="28.68" fill="#ff1a0a"/>
<rect x="155.10" y="215.15" width="6.20" height="16.65" fill="#1a0aff"/>
<rect x="167.00" y="207.75" width="6.30" height="24.05" fill="#ff1a0a"/>
<rect x="173.30" y="210.53" width="5.90" height="21.28" fill="#1a0aff"/>
<line x1="145.00" y1="233.50" x2="182.00" y2="233.50" stroke="#555" stroke-width="0.75"/>
<line x1="155.10" y1="233.50" x2="155.10" y2="236.10" stroke="#444" stroke-width="0.55"/>
<text x="155.30" y="239.90" font-size="5.4" text-anchor="middle" fill="#222" stroke="#222" stroke-width="0.22" textLength="9.1" lengthAdjust="spacingAndGlyphs">TT 1</text>
<line x1="173.30" y1="233.50" x2="173.30" y2="236.10" stroke="#444" stroke-width="0.55"/>
<text x="173.50" y="239.90" font-size="5.4" text-anchor="middle" fill="#222" stroke="#222" stroke-width="0.22" textLength="9.1" lengthAdjust="spacingAndGlyphs">TT 2</text>
<text x="164.00" y="188.80" font-size="5.2" text-anchor="middle" fill="#222" stroke="#222" stroke-width="0.22" textLength="25.6" lengthAdjust="spacingAndGlyphs">C<tspan font-size="3.4" dy="1.1">HC</tspan><tspan dy="-1.1"> vs. A</tspan><tspan font-size="3.4" dy="1.1">LC</tspan></text>
<rect x="189.60" y="204.05" width="6.20" height="27.75" fill="#f4b8ca"/>
<rect x="195.80" y="214.23" width="6.90" height="17.57" fill="#b0dee5"/>
<rect x="207.70" y="225.33" width="6.30" height="6.48" fill="#f4b8ca"/>
<rect x="214.00" y="192.95" width="6.90" height="38.85" fill="#b0dee5"/>
<line x1="186.00" y1="233.50" x2="223.50" y2="233.50" stroke="#555" stroke-width="0.75"/>
<line x1="195.80" y1="233.50" x2="195.80" y2="236.10" stroke="#444" stroke-width="0.55"/>
<text x="196.00" y="239.90" font-size="5.4" text-anchor="middle" fill="#222" stroke="#222" stroke-width="0.22" textLength="9.1" lengthAdjust="spacingAndGlyphs">TT 1</text>
<line x1="214.00" y1="233.50" x2="214.00" y2="236.10" stroke="#444" stroke-width="0.55"/>
<text x="214.20" y="239.90" font-size="5.4" text-anchor="middle" fill="#222" stroke="#222" stroke-width="0.22" textLength="9.1" lengthAdjust="spacingAndGlyphs">TT 2</text>
<text x="205.25" y="188.80" font-size="5.2" text-anchor="middle" fill="#222" stroke="#222" stroke-width="0.22" textLength="25.6" lengthAdjust="spacingAndGlyphs">D<tspan font-size="3.4" dy="1.1">HC</tspan><tspan dy="-1.1"> vs. B</tspan><tspan font-size="3.4" dy="1.1">LC</tspan></text>
<line x1="145.00" y1="192.80" x2="145.00" y2="233.50" stroke="#555" stroke-width="0.75"/>
<line x1="143.20" y1="231.80" x2="145.00" y2="231.80" stroke="#444" stroke-width="0.55"/>
<text x="142.60" y="233.80" font-size="5.5" text-anchor="end" fill="#333" stroke="#333" stroke-width="0.22">0</text>
<line x1="143.20" y1="222.55" x2="145.00" y2="222.55" stroke="#444" stroke-width="0.55"/>
<text x="142.60" y="224.55" font-size="5.5" text-anchor="end" fill="#333" stroke="#333" stroke-width="0.22">10</text>
<line x1="143.20" y1="213.30" x2="145.00" y2="213.30" stroke="#444" stroke-width="0.55"/>
<text x="142.60" y="215.30" font-size="5.5" text-anchor="end" fill="#333" stroke="#333" stroke-width="0.22">20</text>
<line x1="143.20" y1="204.05" x2="145.00" y2="204.05" stroke="#444" stroke-width="0.55"/>
<text x="142.60" y="206.05" font-size="5.5" text-anchor="end" fill="#333" stroke="#333" stroke-width="0.22">30</text>
<line x1="143.20" y1="194.80" x2="145.00" y2="194.80" stroke="#444" stroke-width="0.55"/>
<text x="142.60" y="196.80" font-size="5.5" text-anchor="end" fill="#333" stroke="#333" stroke-width="0.22">40</text>
<rect x="240.00" y="216.07" width="6.30" height="15.73" fill="#ff1a0a"/>
<rect x="246.30" y="193.30" width="6.30" height="38.50" fill="#1a0aff"/>
<rect x="258.00" y="215.30" width="6.20" height="16.50" fill="#ff1a0a"/>
<rect x="264.20" y="194.40" width="6.60" height="37.40" fill="#1a0aff"/>
<line x1="235.40" y1="233.50" x2="273.50" y2="233.50" stroke="#555" stroke-width="0.75"/>
<line x1="246.30" y1="233.50" x2="246.30" y2="236.10" stroke="#444" stroke-width="0.55"/>
<text x="246.50" y="239.90" font-size="5.4" text-anchor="middle" fill="#222" stroke="#222" stroke-width="0.22" textLength="9.1" lengthAdjust="spacingAndGlyphs">TT 1</text>
<line x1="264.20" y1="233.50" x2="264.20" y2="236.10" stroke="#444" stroke-width="0.55"/>
<text x="264.40" y="239.90" font-size="5.4" text-anchor="middle" fill="#222" stroke="#222" stroke-width="0.22" textLength="9.1" lengthAdjust="spacingAndGlyphs">TT 2</text>
<text x="255.40" y="188.80" font-size="5.2" text-anchor="middle" fill="#222" stroke="#222" stroke-width="0.22" textLength="25.6" lengthAdjust="spacingAndGlyphs">C<tspan font-size="3.4" dy="1.1">HC</tspan><tspan dy="-1.1"> vs. A</tspan><tspan font-size="3.4" dy="1.1">LC</tspan></text>
<rect x="280.80" y="210.90" width="6.30" height="20.90" fill="#f4b8ca"/>
<rect x="287.10" y="198.80" width="6.30" height="33.00" fill="#b0dee5"/>
<rect x="299.00" y="210.90" width="6.30" height="20.90" fill="#f4b8ca"/>
<rect x="305.30" y="198.80" width="6.90" height="33.00" fill="#b0dee5"/>
<line x1="277.00" y1="233.50" x2="315.00" y2="233.50" stroke="#555" stroke-width="0.75"/>
<line x1="287.10" y1="233.50" x2="287.10" y2="236.10" stroke="#444" stroke-width="0.55"/>
<text x="287.30" y="239.90" font-size="5.4" text-anchor="middle" fill="#222" stroke="#222" stroke-width="0.22" textLength="9.1" lengthAdjust="spacingAndGlyphs">TT 1</text>
<line x1="305.30" y1="233.50" x2="305.30" y2="236.10" stroke="#444" stroke-width="0.55"/>
<text x="305.50" y="239.90" font-size="5.4" text-anchor="middle" fill="#222" stroke="#222" stroke-width="0.22" textLength="9.1" lengthAdjust="spacingAndGlyphs">TT 2</text>
<text x="296.50" y="188.80" font-size="5.2" text-anchor="middle" fill="#222" stroke="#222" stroke-width="0.22" textLength="25.6" lengthAdjust="spacingAndGlyphs">D<tspan font-size="3.4" dy="1.1">HC</tspan><tspan dy="-1.1"> vs. B</tspan><tspan font-size="3.4" dy="1.1">LC</tspan></text>
<line x1="235.40" y1="196.80" x2="235.40" y2="233.50" stroke="#555" stroke-width="0.75"/>
<line x1="233.60" y1="231.80" x2="235.40" y2="231.80" stroke="#444" stroke-width="0.55"/>
<text x="233.00" y="233.80" font-size="5.5" text-anchor="end" fill="#333" stroke="#333" stroke-width="0.22">0</text>
<line x1="233.60" y1="220.80" x2="235.40" y2="220.80" stroke="#444" stroke-width="0.55"/>
<text x="233.00" y="222.80" font-size="5.5" text-anchor="end" fill="#333" stroke="#333" stroke-width="0.22">10</text>
<line x1="233.60" y1="209.80" x2="235.40" y2="209.80" stroke="#444" stroke-width="0.55"/>
<text x="233.00" y="211.80" font-size="5.5" text-anchor="end" fill="#333" stroke="#333" stroke-width="0.22">20</text>
<line x1="233.60" y1="198.80" x2="235.40" y2="198.80" stroke="#444" stroke-width="0.55"/>
<text x="233.00" y="200.80" font-size="5.5" text-anchor="end" fill="#333" stroke="#333" stroke-width="0.22">30</text>
<rect x="331.50" y="198.30" width="6.50" height="33.00" fill="#f08a26"/>
<rect x="338.00" y="198.30" width="6.20" height="33.00" fill="#2a7318"/>
<rect x="349.50" y="196.10" width="6.40" height="35.20" fill="#f08a26"/>
<rect x="355.90" y="200.06" width="6.20" height="31.24" fill="#2a7318"/>
<line x1="326.70" y1="233.00" x2="365.00" y2="233.00" stroke="#555" stroke-width="0.75"/>
<line x1="338.00" y1="233.00" x2="338.00" y2="235.60" stroke="#444" stroke-width="0.55"/>
<text x="338.20" y="239.40" font-size="5.4" text-anchor="middle" fill="#222" stroke="#222" stroke-width="0.22" textLength="9.1" lengthAdjust="spacingAndGlyphs">TT 1</text>
<line x1="355.90" y1="233.00" x2="355.90" y2="235.60" stroke="#444" stroke-width="0.55"/>
<text x="356.10" y="239.40" font-size="5.4" text-anchor="middle" fill="#222" stroke="#222" stroke-width="0.22" textLength="9.1" lengthAdjust="spacingAndGlyphs">TT 2</text>
<text x="346.80" y="188.80" font-size="5.2" text-anchor="middle" fill="#222" stroke="#222" stroke-width="0.22" textLength="25.6" lengthAdjust="spacingAndGlyphs">C<tspan font-size="3.4" dy="1.1">HG</tspan><tspan dy="-1.1"> vs. A</tspan><tspan font-size="3.4" dy="1.1">LG</tspan></text>
<rect x="372.50" y="198.30" width="6.70" height="33.00" fill="#f5d6b6"/>
<rect x="379.20" y="198.30" width="5.80" height="33.00" fill="#a2f7a0"/>
<rect x="390.60" y="193.24" width="6.20" height="38.06" fill="#f5d6b6"/>
<rect x="396.80" y="202.48" width="6.20" height="28.82" fill="#a2f7a0"/>
<line x1="369.00" y1="233.00" x2="406.00" y2="233.00" stroke="#555" stroke-width="0.75"/>
<line x1="379.20" y1="233.00" x2="379.20" y2="235.60" stroke="#444" stroke-width="0.55"/>
<text x="379.40" y="239.40" font-size="5.4" text-anchor="middle" fill="#222" stroke="#222" stroke-width="0.22" textLength="9.1" lengthAdjust="spacingAndGlyphs">TT 1</text>
<line x1="396.80" y1="233.00" x2="396.80" y2="235.60" stroke="#444" stroke-width="0.55"/>
<text x="397.00" y="239.40" font-size="5.4" text-anchor="middle" fill="#222" stroke="#222" stroke-width="0.22" textLength="9.1" lengthAdjust="spacingAndGlyphs">TT 2</text>
<text x="387.75" y="188.80" font-size="5.2" text-anchor="middle" fill="#222" stroke="#222" stroke-width="0.22" textLength="25.6" lengthAdjust="spacingAndGlyphs">D<tspan font-size="3.4" dy="1.1">HG</tspan><tspan dy="-1.1"> vs. B</tspan><tspan font-size="3.4" dy="1.1">LG</tspan></text>
<line x1="326.70" y1="196.30" x2="326.70" y2="233.00" stroke="#555" stroke-width="0.75"/>
<line x1="324.90" y1="231.30" x2="326.70" y2="231.30" stroke="#444" stroke-width="0.55"/>
<text x="324.30" y="233.30" font-size="5.5" text-anchor="end" fill="#333" stroke="#333" stroke-width="0.22">0</text>
<line x1="324.90" y1="220.30" x2="326.70" y2="220.30" stroke="#444" stroke-width="0.55"/>
<text x="324.30" y="222.30" font-size="5.5" text-anchor="end" fill="#333" stroke="#333" stroke-width="0.22">5</text>
<line x1="324.90" y1="209.30" x2="326.70" y2="209.30" stroke="#444" stroke-width="0.55"/>
<text x="324.30" y="211.30" font-size="5.5" text-anchor="end" fill="#333" stroke="#333" stroke-width="0.22">10</text>
<line x1="324.90" y1="198.30" x2="326.70" y2="198.30" stroke="#444" stroke-width="0.55"/>
<text x="324.30" y="200.30" font-size="5.5" text-anchor="end" fill="#333" stroke="#333" stroke-width="0.22">15</text>
<rect x="423.00" y="193.28" width="6.20" height="38.22" fill="#f08a26"/>
<rect x="429.20" y="223.70" width="6.60" height="7.80" fill="#2a7318"/>
<rect x="441.10" y="201.08" width="6.30" height="30.42" fill="#f08a26"/>
<rect x="447.40" y="215.90" width="6.30" height="15.60" fill="#2a7318"/>
<line x1="417.60" y1="233.20" x2="456.50" y2="233.20" stroke="#555" stroke-width="0.75"/>
<line x1="429.20" y1="233.20" x2="429.20" y2="235.80" stroke="#444" stroke-width="0.55"/>
<text x="429.40" y="239.60" font-size="5.4" text-anchor="middle" fill="#222" stroke="#222" stroke-width="0.22" textLength="9.1" lengthAdjust="spacingAndGlyphs">TT 1</text>
<line x1="447.40" y1="233.20" x2="447.40" y2="235.80" stroke="#444" stroke-width="0.55"/>
<text x="447.60" y="239.60" font-size="5.4" text-anchor="middle" fill="#222" stroke="#222" stroke-width="0.22" textLength="9.1" lengthAdjust="spacingAndGlyphs">TT 2</text>
<text x="438.35" y="188.80" font-size="5.2" text-anchor="middle" fill="#222" stroke="#222" stroke-width="0.22" textLength="25.6" lengthAdjust="spacingAndGlyphs">C<tspan font-size="3.4" dy="1.1">HG</tspan><tspan dy="-1.1"> vs. A</tspan><tspan font-size="3.4" dy="1.1">LG</tspan></text>
<rect x="463.50" y="215.90" width="6.50" height="15.60" fill="#f5d6b6"/>
<rect x="470.00" y="201.86" width="7.00" height="29.64" fill="#a2f7a0"/>
<rect x="482.30" y="215.90" width="6.20" height="15.60" fill="#f5d6b6"/>
<rect x="488.50" y="201.86" width="6.30" height="29.64" fill="#a2f7a0"/>
<line x1="460.00" y1="233.20" x2="497.50" y2="233.20" stroke="#555" stroke-width="0.75"/>
<line x1="470.00" y1="233.20" x2="470.00" y2="235.80" stroke="#444" stroke-width="0.55"/>
<text x="470.20" y="239.60" font-size="5.4" text-anchor="middle" fill="#222" stroke="#222" stroke-width="0.22" textLength="9.1" lengthAdjust="spacingAndGlyphs">TT 1</text>
<line x1="488.50" y1="233.20" x2="488.50" y2="235.80" stroke="#444" stroke-width="0.55"/>
<text x="488.70" y="239.60" font-size="5.4" text-anchor="middle" fill="#222" stroke="#222" stroke-width="0.22" textLength="9.1" lengthAdjust="spacingAndGlyphs">TT 2</text>
<text x="479.15" y="188.80" font-size="5.2" text-anchor="middle" fill="#222" stroke="#222" stroke-width="0.22" textLength="25.6" lengthAdjust="spacingAndGlyphs">D<tspan font-size="3.4" dy="1.1">HG</tspan><tspan dy="-1.1"> vs. B</tspan><tspan font-size="3.4" dy="1.1">LG</tspan></text>
<line x1="417.60" y1="190.50" x2="417.60" y2="233.20" stroke="#555" stroke-width="0.75"/>
<line x1="415.80" y1="231.50" x2="417.60" y2="231.50" stroke="#444" stroke-width="0.55"/>
<text x="415.20" y="233.50" font-size="5.5" text-anchor="end" fill="#333" stroke="#333" stroke-width="0.22">0</text>
<line x1="415.80" y1="223.70" x2="417.60" y2="223.70" stroke="#444" stroke-width="0.55"/>
<text x="415.20" y="225.70" font-size="5.5" text-anchor="end" fill="#333" stroke="#333" stroke-width="0.22">5</text>
<line x1="415.80" y1="215.90" x2="417.60" y2="215.90" stroke="#444" stroke-width="0.55"/>
<text x="415.20" y="217.90" font-size="5.5" text-anchor="end" fill="#333" stroke="#333" stroke-width="0.22">10</text>
<line x1="415.80" y1="208.10" x2="417.60" y2="208.10" stroke="#444" stroke-width="0.55"/>
<text x="415.20" y="210.10" font-size="5.5" text-anchor="end" fill="#333" stroke="#333" stroke-width="0.22">15</text>
<line x1="415.80" y1="200.30" x2="417.60" y2="200.30" stroke="#444" stroke-width="0.55"/>
<text x="415.20" y="202.30" font-size="5.5" text-anchor="end" fill="#333" stroke="#333" stroke-width="0.22">20</text>
<line x1="415.80" y1="192.50" x2="417.60" y2="192.50" stroke="#444" stroke-width="0.55"/>
<text x="415.20" y="194.50" font-size="5.5" text-anchor="end" fill="#333" stroke="#333" stroke-width="0.22">25</text>
<rect x="514.60" y="202.79" width="6.20" height="29.01" fill="#ff1a0a"/>
<rect x="520.80" y="221.61" width="6.30" height="10.19" fill="#1a0aff"/>
<rect x="532.70" y="201.22" width="6.30" height="30.58" fill="#ff1a0a"/>
<rect x="539.00" y="223.18" width="6.30" height="8.62" fill="#1a0aff"/>
<line x1="509.90" y1="233.50" x2="548.00" y2="233.50" stroke="#555" stroke-width="0.75"/>
<line x1="520.80" y1="233.50" x2="520.80" y2="236.10" stroke="#444" stroke-width="0.55"/>
<text x="521.00" y="239.90" font-size="5.4" text-anchor="middle" fill="#222" stroke="#222" stroke-width="0.22" textLength="9.1" lengthAdjust="spacingAndGlyphs">TT 1</text>
<line x1="539.00" y1="233.50" x2="539.00" y2="236.10" stroke="#444" stroke-width="0.55"/>
<text x="539.20" y="239.90" font-size="5.4" text-anchor="middle" fill="#222" stroke="#222" stroke-width="0.22" textLength="9.1" lengthAdjust="spacingAndGlyphs">TT 2</text>
<text x="529.95" y="188.80" font-size="5.2" text-anchor="middle" fill="#222" stroke="#222" stroke-width="0.22" textLength="25.6" lengthAdjust="spacingAndGlyphs">D<tspan font-size="3.4" dy="1.1">HC</tspan><tspan dy="-1.1"> vs. A</tspan><tspan font-size="3.4" dy="1.1">LC</tspan></text>
<rect x="555.70" y="230.23" width="6.30" height="1.57" fill="#f4b8ca"/>
<rect x="562.00" y="194.17" width="6.20" height="37.63" fill="#b0dee5"/>
<rect x="573.90" y="231.02" width="6.20" height="0.78" fill="#f4b8ca"/>
<rect x="580.10" y="193.38" width="6.30" height="38.42" fill="#b0dee5"/>
<line x1="552.00" y1="233.50" x2="589.50" y2="233.50" stroke="#555" stroke-width="0.75"/>
<line x1="562.00" y1="233.50" x2="562.00" y2="236.10" stroke="#444" stroke-width="0.55"/>
<text x="562.20" y="239.90" font-size="5.4" text-anchor="middle" fill="#222" stroke="#222" stroke-width="0.22" textLength="9.1" lengthAdjust="spacingAndGlyphs">TT 1</text>
<line x1="580.10" y1="233.50" x2="580.10" y2="236.10" stroke="#444" stroke-width="0.55"/>
<text x="580.30" y="239.90" font-size="5.4" text-anchor="middle" fill="#222" stroke="#222" stroke-width="0.22" textLength="9.1" lengthAdjust="spacingAndGlyphs">TT 2</text>
<text x="571.05" y="188.80" font-size="5.2" text-anchor="middle" fill="#222" stroke="#222" stroke-width="0.22" textLength="25.6" lengthAdjust="spacingAndGlyphs">E<tspan font-size="3.4" dy="1.1">HC</tspan><tspan dy="-1.1"> vs. B</tspan><tspan font-size="3.4" dy="1.1">LC</tspan></text>
<line x1="509.90" y1="190.60" x2="509.90" y2="233.50" stroke="#555" stroke-width="0.75"/>
<line x1="508.10" y1="231.80" x2="509.90" y2="231.80" stroke="#444" stroke-width="0.55"/>
<text x="507.50" y="233.80" font-size="5.5" text-anchor="end" fill="#333" stroke="#333" stroke-width="0.22">0</text>
<line x1="508.10" y1="223.96" x2="509.90" y2="223.96" stroke="#444" stroke-width="0.55"/>
<text x="507.50" y="225.96" font-size="5.5" text-anchor="end" fill="#333" stroke="#333" stroke-width="0.22">10</text>
<line x1="508.10" y1="216.12" x2="509.90" y2="216.12" stroke="#444" stroke-width="0.55"/>
<text x="507.50" y="218.12" font-size="5.5" text-anchor="end" fill="#333" stroke="#333" stroke-width="0.22">20</text>
<line x1="508.10" y1="208.28" x2="509.90" y2="208.28" stroke="#444" stroke-width="0.55"/>
<text x="507.50" y="210.28" font-size="5.5" text-anchor="end" fill="#333" stroke="#333" stroke-width="0.22">30</text>
<line x1="508.10" y1="200.44" x2="509.90" y2="200.44" stroke="#444" stroke-width="0.55"/>
<text x="507.50" y="202.44" font-size="5.5" text-anchor="end" fill="#333" stroke="#333" stroke-width="0.22">40</text>
<line x1="508.10" y1="192.60" x2="509.90" y2="192.60" stroke="#444" stroke-width="0.55"/>
<text x="507.50" y="194.60" font-size="5.5" text-anchor="end" fill="#333" stroke="#333" stroke-width="0.22">50</text>
<rect x="605.80" y="194.06" width="6.30" height="37.44" fill="#ff1a0a"/>
<rect x="612.10" y="219.02" width="6.30" height="12.48" fill="#1a0aff"/>
<rect x="624.00" y="200.30" width="6.30" height="31.20" fill="#ff1a0a"/>
<rect x="630.30" y="212.78" width="6.30" height="18.72" fill="#1a0aff"/>
<line x1="601.10" y1="233.20" x2="639.50" y2="233.20" stroke="#555" stroke-width="0.75"/>
<line x1="612.10" y1="233.20" x2="612.10" y2="235.80" stroke="#444" stroke-width="0.55"/>
<text x="612.30" y="239.60" font-size="5.4" text-anchor="middle" fill="#222" stroke="#222" stroke-width="0.22" textLength="9.1" lengthAdjust="spacingAndGlyphs">TT 1</text>
<line x1="630.30" y1="233.20" x2="630.30" y2="235.80" stroke="#444" stroke-width="0.55"/>
<text x="630.50" y="239.60" font-size="5.4" text-anchor="middle" fill="#222" stroke="#222" stroke-width="0.22" textLength="9.1" lengthAdjust="spacingAndGlyphs">TT 2</text>
<text x="621.20" y="188.80" font-size="5.2" text-anchor="middle" fill="#222" stroke="#222" stroke-width="0.22" textLength="25.6" lengthAdjust="spacingAndGlyphs">D<tspan font-size="3.4" dy="1.1">HC</tspan><tspan dy="-1.1"> vs. A</tspan><tspan font-size="3.4" dy="1.1">LC</tspan></text>
<rect x="646.80" y="215.90" width="6.20" height="15.60" fill="#f4b8ca"/>
<rect x="653.00" y="197.18" width="6.60" height="34.32" fill="#b0dee5"/>
<rect x="664.90" y="220.06" width="6.30" height="11.44" fill="#f4b8ca"/>
<rect x="671.20" y="193.02" width="6.90" height="38.48" fill="#b0dee5"/>
<line x1="643.50" y1="233.20" x2="681.00" y2="233.20" stroke="#555" stroke-width="0.75"/>
<line x1="653.00" y1="233.20" x2="653.00" y2="235.80" stroke="#444" stroke-width="0.55"/>
<text x="653.20" y="239.60" font-size="5.4" text-anchor="middle" fill="#222" stroke="#222" stroke-width="0.22" textLength="9.1" lengthAdjust="spacingAndGlyphs">TT 1</text>
<line x1="671.20" y1="233.20" x2="671.20" y2="235.80" stroke="#444" stroke-width="0.55"/>
<text x="671.40" y="239.60" font-size="5.4" text-anchor="middle" fill="#222" stroke="#222" stroke-width="0.22" textLength="9.1" lengthAdjust="spacingAndGlyphs">TT 2</text>
<text x="662.45" y="188.80" font-size="5.2" text-anchor="middle" fill="#222" stroke="#222" stroke-width="0.22" textLength="25.6" lengthAdjust="spacingAndGlyphs">E<tspan font-size="3.4" dy="1.1">HC</tspan><tspan dy="-1.1"> vs. B</tspan><tspan font-size="3.4" dy="1.1">LC</tspan></text>
<line x1="601.10" y1="198.30" x2="601.10" y2="233.20" stroke="#555" stroke-width="0.75"/>
<line x1="599.30" y1="231.50" x2="601.10" y2="231.50" stroke="#444" stroke-width="0.55"/>
<text x="598.70" y="233.50" font-size="5.5" text-anchor="end" fill="#333" stroke="#333" stroke-width="0.22">0</text>
<line x1="599.30" y1="221.10" x2="601.10" y2="221.10" stroke="#444" stroke-width="0.55"/>
<text x="598.70" y="223.10" font-size="5.5" text-anchor="end" fill="#333" stroke="#333" stroke-width="0.22">10</text>
<line x1="599.30" y1="210.70" x2="601.10" y2="210.70" stroke="#444" stroke-width="0.55"/>
<text x="598.70" y="212.70" font-size="5.5" text-anchor="end" fill="#333" stroke="#333" stroke-width="0.22">20</text>
<line x1="599.30" y1="200.30" x2="601.10" y2="200.30" stroke="#444" stroke-width="0.55"/>
<text x="598.70" y="202.30" font-size="5.5" text-anchor="end" fill="#333" stroke="#333" stroke-width="0.22">30</text>
<text x="48.90" y="210.60" font-size="6.3" text-anchor="middle" fill="#333" stroke="#333" stroke-width="0.12" textLength="34.0" lengthAdjust="spacingAndGlyphs" transform="rotate(-90 48.9 210.6)">choice count</text>
<text x="85.40" y="180.80" font-size="6.7" font-weight="bold" text-anchor="start" fill="#111" stroke="#111" stroke-width="0.15" textLength="21.5" lengthAdjust="spacingAndGlyphs">Task p1</text>
<text x="173.40" y="180.80" font-size="6.7" font-weight="bold" text-anchor="start" fill="#111" stroke="#111" stroke-width="0.15" textLength="22.4" lengthAdjust="spacingAndGlyphs">Task p2</text>
<text x="264.70" y="180.80" font-size="6.7" font-weight="bold" text-anchor="start" fill="#111" stroke="#111" stroke-width="0.15" textLength="22.9" lengthAdjust="spacingAndGlyphs">Task p3</text>
<text x="354.00" y="180.80" font-size="6.7" font-weight="bold" text-anchor="start" fill="#111" stroke="#111" stroke-width="0.15" textLength="27.0" lengthAdjust="spacingAndGlyphs">Task p4.1</text>
<text x="444.70" y="180.80" font-size="6.7" font-weight="bold" text-anchor="start" fill="#111" stroke="#111" stroke-width="0.15" textLength="28.5" lengthAdjust="spacingAndGlyphs">Task p4.2</text>
<text x="539.00" y="180.80" font-size="6.7" font-weight="bold" text-anchor="start" fill="#111" stroke="#111" stroke-width="0.15" textLength="22.3" lengthAdjust="spacingAndGlyphs">Task g1</text>
<text x="630.60" y="180.80" font-size="6.7" font-weight="bold" text-anchor="start" fill="#111" stroke="#111" stroke-width="0.15" textLength="22.7" lengthAdjust="spacingAndGlyphs">Task g2</text>
<text x="348.10" y="172.90" font-size="7.0" font-weight="bold" text-anchor="start" fill="#111" stroke="#111" stroke-width="0.15" textLength="30.5" lengthAdjust="spacingAndGlyphs">Transfer</text>
<text x="43.60" y="181.90" font-size="10.6" text-anchor="start" fill="#111" textLength="6.6" lengthAdjust="spacingAndGlyphs">H</text>
<text x="318.50" y="181.90" font-size="10.6" text-anchor="start" fill="#111" textLength="5.3" lengthAdjust="spacingAndGlyphs">K</text>
<text x="409.90" y="181.90" font-size="10.6" text-anchor="start" fill="#111" textLength="4.5" lengthAdjust="spacingAndGlyphs">L</text>
<text x="499.80" y="181.90" font-size="10.6" text-anchor="start" fill="#111" textLength="8.9" lengthAdjust="spacingAndGlyphs">M</text>
<text x="592.00" y="181.90" font-size="10.6" text-anchor="start" fill="#111" textLength="6.4" lengthAdjust="spacingAndGlyphs">N</text>
<text x="136.3" y="181.8" font-size="10.2" font-family="Liberation Serif" fill="#111">I</text>
<path d="M229.2,174.6 L229.2,182.2 Q229.2,183.7 227.1,183.7" fill="none" stroke="#111" stroke-width="0.95"/>
<rect x="85.80" y="247.0" width="7.5" height="7.2" fill="#ff1a0a"/>
<text x="94.60" y="252.90" font-size="5.1" text-anchor="start" fill="#222" stroke="#222" stroke-width="0.22" textLength="34.3" lengthAdjust="spacingAndGlyphs">HC optimal (C)</text>
<rect x="130.00" y="247.0" width="7.5" height="7.2" fill="#1a0aff"/>
<text x="138.80" y="252.90" font-size="5.1" text-anchor="start" fill="#222" stroke="#222" stroke-width="0.22" textLength="33.0" lengthAdjust="spacingAndGlyphs">LC optimal (A)</text>
<rect x="173.40" y="247.0" width="7.5" height="7.2" fill="#f4b8ca"/>
<text x="182.20" y="252.90" font-size="5.1" text-anchor="start" fill="#222" stroke="#222" stroke-width="0.22" textLength="43.1" lengthAdjust="spacingAndGlyphs">HC suboptimal (D)</text>
<rect x="226.20" y="247.0" width="7.5" height="7.2" fill="#b0dee5"/>
<text x="235.00" y="252.90" font-size="5.1" text-anchor="start" fill="#222" stroke="#222" stroke-width="0.22" textLength="42.3" lengthAdjust="spacingAndGlyphs">LC suboptimal (B)</text>
<rect x="405.10" y="247.0" width="7.5" height="7.2" fill="#f08a26"/>
<text x="413.90" y="252.90" font-size="5.1" text-anchor="start" fill="#222" stroke="#222" stroke-width="0.22" textLength="35.0" lengthAdjust="spacingAndGlyphs">HG optimal (C)</text>
<rect x="449.80" y="247.0" width="7.5" height="7.2" fill="#2a7318"/>
<text x="458.60" y="252.90" font-size="5.1" text-anchor="start" fill="#222" stroke="#222" stroke-width="0.22" textLength="33.5" lengthAdjust="spacingAndGlyphs">LG optimal (A)</text>
<rect x="493.40" y="247.0" width="7.5" height="7.2" fill="#f5d6b6"/>
<text x="502.20" y="252.90" font-size="5.1" text-anchor="start" fill="#222" stroke="#222" stroke-width="0.22" textLength="43.3" lengthAdjust="spacingAndGlyphs">HG suboptimal (D)</text>
<rect x="546.20" y="247.0" width="7.5" height="7.2" fill="#a2f7a0"/>
<text x="555.00" y="252.90" font-size="5.1" text-anchor="start" fill="#222" stroke="#222" stroke-width="0.22" textLength="42.8" lengthAdjust="spacingAndGlyphs">LG suboptimal (B)</text>
</svg>
</body></html>
